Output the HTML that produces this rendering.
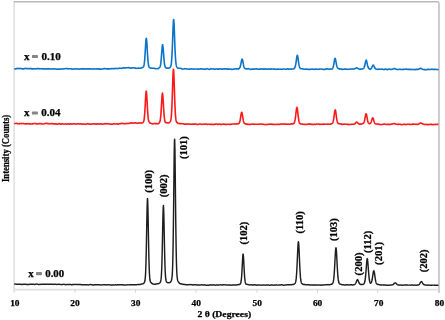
<!DOCTYPE html>
<html><head><meta charset="utf-8"><style>
html,body{margin:0;padding:0;background:#fff;}
body{width:445px;height:320px;overflow:hidden;}
svg{display:block;filter:blur(0.3px);}
text{font-family:"Liberation Serif",serif;font-weight:bold;fill:#000;stroke:#000;stroke-width:0.25px;}
</style></head><body>
<svg width="445" height="320" viewBox="0 0 445 320">
<line x1="14.1" y1="1.7" x2="14.1" y2="292.6" stroke="#e0e0e0" stroke-width="1.6"/>
<line x1="438.95" y1="3.2" x2="438.95" y2="292.8" stroke="#c8c8c8" stroke-width="1.8"/>
<path d="M13.9,1.75 H437.4 A1.55,1.55 0 0 1 438.95,3.3" fill="none" stroke="#bababa" stroke-width="1.4"/>
<line x1="14" y1="289.7" x2="439" y2="289.7" stroke="#e0e0e0" stroke-width="1.8"/>
<g stroke="#d6d6d6" stroke-width="1"><line x1="75.05" y1="289" x2="75.05" y2="292.8"/><line x1="135.60" y1="289" x2="135.60" y2="292.8"/><line x1="196.00" y1="289" x2="196.00" y2="292.8"/><line x1="257.00" y1="289" x2="257.00" y2="292.8"/><line x1="317.50" y1="289" x2="317.50" y2="292.8"/><line x1="377.70" y1="289" x2="377.70" y2="292.8"/></g>
<path d="M14.20,68.96 14.45,68.95 14.70,68.99 14.95,68.84 15.20,68.82 15.45,68.86 15.70,68.83 15.95,68.82 16.20,68.71 16.45,68.62 16.70,68.67 16.95,68.68 17.20,68.61 17.45,68.50 17.70,68.37 17.95,68.40 18.20,68.49 18.45,68.59 18.70,68.52 18.95,68.56 19.20,68.59 19.45,68.66 19.70,68.64 19.95,68.47 20.20,68.49 20.45,68.50 20.70,68.39 20.95,68.55 21.20,68.60 21.45,68.63 21.70,68.82 21.95,68.75 22.20,68.84 22.45,68.84 22.70,68.84 22.95,68.80 23.20,68.93 23.45,68.92 23.70,68.88 23.95,68.82 24.20,68.82 24.45,68.67 24.70,68.55 24.95,68.43 25.20,68.37 25.45,68.32 25.70,68.38 25.95,68.42 26.20,68.45 26.45,68.59 26.70,68.63 26.95,68.57 27.20,68.67 27.45,68.67 27.70,68.62 27.95,68.75 28.20,68.60 28.45,68.65 28.70,68.75 28.95,68.67 29.20,68.69 29.45,68.75 29.70,68.67 29.95,68.67 30.20,68.54 30.45,68.42 30.70,68.60 30.95,68.49 31.20,68.56 31.45,68.63 31.70,68.81 31.95,68.86 32.20,68.90 32.45,68.82 32.70,68.93 32.95,68.81 33.20,68.78 33.45,68.75 33.70,68.85 33.95,68.79 34.20,68.87 34.45,68.74 34.70,68.79 34.95,68.77 35.20,68.79 35.45,68.69 35.70,68.86 35.95,68.79 36.20,68.83 36.45,68.83 36.70,68.75 36.95,68.59 37.20,68.56 37.45,68.52 37.70,68.60 37.95,68.58 38.20,68.53 38.45,68.68 38.70,68.77 38.95,68.82 39.20,68.74 39.45,68.66 39.70,68.79 39.95,68.87 40.20,68.76 40.45,68.67 40.70,68.77 40.95,68.73 41.20,68.72 41.45,68.72 41.70,68.66 41.95,68.72 42.20,68.89 42.45,68.84 42.70,68.98 42.95,68.91 43.20,68.84 43.45,68.84 43.70,68.87 43.95,68.74 44.20,68.71 44.45,68.75 44.70,68.90 44.95,69.00 45.20,69.06 45.45,68.99 45.70,69.08 45.95,69.08 46.20,68.95 46.45,68.87 46.70,68.71 46.95,68.70 47.20,68.80 47.45,68.84 47.70,68.87 47.95,68.91 48.20,68.90 48.45,68.89 48.70,68.87 48.95,68.84 49.20,68.82 49.45,68.77 49.70,68.83 49.95,68.91 50.20,69.03 50.45,69.10 50.70,69.10 50.95,69.01 51.20,69.07 51.45,68.98 51.70,68.93 51.95,68.94 52.20,68.95 52.45,68.86 52.70,68.97 52.95,68.97 53.20,69.02 53.45,68.94 53.70,68.90 53.95,68.81 54.20,68.89 54.45,68.80 54.70,68.83 54.95,68.85 55.20,68.99 55.45,68.96 55.70,69.03 55.95,69.05 56.20,69.12 56.45,69.03 56.70,69.07 56.95,69.09 57.20,69.15 57.45,69.22 57.70,69.26 57.95,69.20 58.20,69.24 58.45,69.11 58.70,69.11 58.95,69.16 59.20,69.06 59.45,69.02 59.70,69.06 59.95,69.09 60.20,69.10 60.45,69.09 60.70,69.02 60.95,69.05 61.20,69.00 61.45,68.99 61.70,68.99 61.95,69.08 62.20,69.07 62.45,68.97 62.70,68.87 62.95,68.88 63.20,68.88 63.45,68.78 63.70,68.79 63.95,68.77 64.20,68.77 64.45,68.83 64.70,68.79 64.95,68.68 65.20,68.66 65.45,68.59 65.70,68.51 65.95,68.54 66.20,68.46 66.45,68.50 66.70,68.56 66.95,68.65 67.20,68.71 67.45,68.72 67.70,68.85 67.95,68.84 68.20,68.83 68.45,68.81 68.70,68.78 68.95,68.69 69.20,68.80 69.45,68.70 69.70,68.71 69.95,68.75 70.20,68.71 70.45,68.74 70.70,68.78 70.95,68.73 71.20,68.84 71.45,68.99 71.70,68.95 71.95,69.09 72.20,69.11 72.45,69.12 72.70,69.03 72.95,68.96 73.20,68.92 73.45,69.02 73.70,69.05 73.95,69.04 74.20,69.04 74.45,69.18 74.70,69.07 74.95,68.98 75.20,68.91 75.45,68.84 75.70,68.75 75.95,68.81 76.20,68.81 76.45,68.88 76.70,68.94 76.95,68.88 77.20,68.81 77.45,68.97 77.70,68.93 77.95,68.94 78.20,69.04 78.45,69.07 78.70,69.08 78.95,69.21 79.20,69.12 79.45,69.13 79.70,69.00 79.95,69.02 80.20,69.00 80.45,69.00 80.70,68.91 80.95,68.84 81.20,68.88 81.45,68.90 81.70,68.77 81.95,68.83 82.20,68.93 82.45,68.84 82.70,68.92 82.95,68.85 83.20,68.95 83.45,69.04 83.70,68.94 83.95,68.83 84.20,68.86 84.45,68.95 84.70,68.95 84.95,68.89 85.20,68.83 85.45,68.91 85.70,68.97 85.95,69.08 86.20,68.92 86.45,69.01 86.70,68.95 86.95,68.96 87.20,68.90 87.45,68.84 87.70,68.80 87.95,68.87 88.20,68.79 88.45,68.88 88.70,68.89 88.95,68.83 89.20,68.82 89.45,68.81 89.70,68.90 89.95,69.00 90.20,68.96 90.45,68.85 90.70,68.99 90.95,69.02 91.20,69.05 91.45,69.01 91.70,68.96 91.95,68.95 92.20,69.12 92.45,69.04 92.70,69.04 92.95,69.09 93.20,68.99 93.45,68.93 93.70,68.99 93.95,68.83 94.20,68.92 94.45,68.98 94.70,68.90 94.95,68.92 95.20,69.01 95.45,69.02 95.70,69.04 95.95,68.97 96.20,68.94 96.45,68.95 96.70,68.96 96.95,68.84 97.20,68.78 97.45,68.91 97.70,68.83 97.95,68.77 98.20,68.83 98.45,68.92 98.70,69.02 98.95,68.91 99.20,68.89 99.45,69.06 99.70,69.21 99.95,69.19 100.20,69.05 100.45,69.08 100.70,69.12 100.95,69.10 101.20,69.10 101.45,69.04 101.70,68.93 101.95,68.98 102.20,68.99 102.45,68.98 102.70,68.97 102.95,68.87 103.20,68.76 103.45,68.85 103.70,68.81 103.95,68.65 104.20,68.69 104.45,68.59 104.70,68.52 104.95,68.60 105.20,68.62 105.45,68.77 105.70,68.78 105.95,68.78 106.20,68.83 106.45,68.93 106.70,68.91 106.95,68.94 107.20,68.84 107.45,68.82 107.70,68.87 107.95,68.84 108.20,68.84 108.45,68.84 108.70,68.83 108.95,68.86 109.20,68.96 109.45,68.87 109.70,68.94 109.95,68.86 110.20,68.90 110.45,68.82 110.70,68.73 110.95,68.65 111.20,68.66 111.45,68.69 111.70,68.67 111.95,68.65 112.20,68.67 112.45,68.65 112.70,68.72 112.95,68.66 113.20,68.53 113.45,68.60 113.70,68.50 113.95,68.53 114.20,68.59 114.45,68.51 114.70,68.63 114.95,68.60 115.20,68.61 115.45,68.56 115.70,68.41 115.95,68.48 116.20,68.53 116.45,68.41 116.70,68.41 116.95,68.44 117.20,68.54 117.45,68.65 117.70,68.48 117.95,68.45 118.20,68.46 118.45,68.46 118.70,68.32 118.95,68.30 119.20,68.19 119.45,68.22 119.70,68.11 119.95,68.18 120.20,68.24 120.45,68.31 120.70,68.26 120.95,68.34 121.20,68.34 121.45,68.41 121.70,68.35 121.95,68.35 122.20,68.25 122.45,68.17 122.70,68.00 122.95,67.93 123.20,67.81 123.45,67.85 123.70,67.79 123.95,67.85 124.20,67.82 124.45,67.89 124.70,68.00 124.95,68.10 125.20,68.01 125.45,67.99 125.70,67.86 125.95,67.88 126.20,67.82 126.45,67.71 126.70,67.66 126.95,67.74 127.20,67.68 127.45,67.71 127.70,67.73 127.95,67.73 128.20,67.71 128.45,67.68 128.70,67.61 128.95,67.58 129.20,67.71 129.45,67.73 129.70,67.88 129.95,67.96 130.20,68.05 130.45,68.06 130.70,68.24 130.95,68.09 131.20,68.16 131.45,68.04 131.70,68.05 131.95,68.07 132.20,68.02 132.45,67.89 132.70,67.89 132.95,67.82 133.20,67.79 133.45,67.75 133.70,67.81 133.95,67.86 134.20,67.89 134.45,67.99 134.70,68.01 134.95,68.15 135.20,68.22 135.45,68.08 135.70,68.07 135.95,68.15 136.20,68.25 136.45,68.33 136.70,68.28 136.95,68.34 137.20,68.32 137.45,68.30 137.70,68.33 137.95,68.23 138.20,68.13 138.45,68.15 138.70,68.16 138.95,68.26 139.20,68.31 139.45,68.18 139.70,68.11 139.95,68.27 140.20,68.25 140.45,68.22 140.70,68.12 140.95,68.08 141.20,68.04 141.45,68.07 141.70,67.87 141.95,67.78 142.20,67.61 142.45,67.58 142.70,67.43 142.95,67.27 143.20,67.15 143.45,66.81 143.70,66.29 143.95,65.40 144.20,64.10 144.45,62.17 144.70,59.57 144.95,56.03 145.20,52.08 145.45,47.81 145.70,43.63 145.95,40.29 146.20,38.47 146.30,38.24 146.45,38.71 146.70,40.92 146.95,44.49 147.20,48.75 147.45,53.03 147.70,57.04 147.95,60.46 148.20,62.92 148.45,64.74 148.70,66.04 148.95,66.83 149.20,67.27 149.45,67.53 149.70,67.60 149.95,67.84 150.20,68.02 150.45,68.02 150.70,68.07 150.95,68.12 151.20,68.16 151.45,68.20 151.70,68.17 151.95,68.16 152.20,68.17 152.45,68.18 152.70,68.32 152.95,68.30 153.20,68.33 153.45,68.32 153.70,68.29 153.95,68.27 154.20,68.34 154.45,68.27 154.70,68.41 154.95,68.47 155.20,68.58 155.45,68.63 155.70,68.75 155.95,68.77 156.20,68.78 156.45,68.78 156.70,68.78 156.95,68.77 157.20,68.76 157.45,68.72 157.70,68.63 157.95,68.66 158.20,68.54 158.45,68.38 158.70,68.14 158.95,67.95 159.20,67.74 159.45,67.64 159.70,67.28 159.95,66.80 160.20,66.27 160.45,65.38 160.70,63.91 160.95,61.90 161.20,59.23 161.45,56.17 161.70,52.91 161.95,49.55 162.20,46.70 162.45,44.99 162.60,44.75 162.70,44.93 162.95,46.37 163.20,48.89 163.45,52.14 163.70,55.61 163.95,58.86 164.20,61.45 164.45,63.56 164.70,65.06 164.95,66.24 165.20,66.91 165.45,67.37 165.70,67.65 165.95,67.83 166.20,67.90 166.45,68.11 166.70,68.11 166.95,68.14 167.20,68.06 167.45,68.06 167.70,68.21 167.95,68.24 168.20,68.22 168.45,68.21 168.70,68.10 168.95,68.11 169.20,67.96 169.45,67.70 169.70,67.66 169.95,67.32 170.20,67.10 170.45,66.84 170.70,66.36 170.95,65.58 171.20,64.40 171.45,62.41 171.70,59.70 171.95,55.88 172.20,50.84 172.45,44.69 172.70,37.75 172.95,30.73 173.20,24.54 173.45,20.55 173.65,19.50 173.70,19.67 173.95,22.01 174.20,27.16 174.45,33.79 174.70,41.00 174.95,47.57 175.20,53.14 175.45,57.55 175.70,60.83 175.95,63.26 176.20,64.98 176.45,65.89 176.70,66.61 176.95,67.09 177.20,67.48 177.45,67.83 177.70,67.97 177.95,68.08 178.20,68.22 178.45,68.17 178.70,68.28 178.95,68.33 179.20,68.26 179.45,68.27 179.70,68.23 179.95,68.21 180.20,68.30 180.45,68.31 180.70,68.32 180.95,68.44 181.20,68.47 181.45,68.62 181.70,68.79 181.95,68.92 182.20,69.00 182.45,69.05 182.70,69.04 182.95,69.12 183.20,69.02 183.45,68.99 183.70,68.96 183.95,68.93 184.20,68.87 184.45,68.79 184.70,68.67 184.95,68.67 185.20,68.68 185.45,68.70 185.70,68.74 185.95,68.76 186.20,68.92 186.45,68.96 186.70,69.04 186.95,68.95 187.20,68.95 187.45,68.95 187.70,69.07 187.95,69.07 188.20,69.15 188.45,69.18 188.70,69.31 188.95,69.29 189.20,69.20 189.45,69.12 189.70,69.12 189.95,69.04 190.20,69.07 190.45,69.04 190.70,69.00 190.95,68.96 191.20,68.94 191.45,68.81 191.70,68.89 191.95,68.88 192.20,68.95 192.45,68.99 192.70,69.07 192.95,69.02 193.20,69.11 193.45,69.10 193.70,69.06 193.95,68.96 194.20,69.02 194.45,68.99 194.70,69.02 194.95,68.95 195.20,68.96 195.45,69.00 195.70,68.96 195.95,68.91 196.20,69.02 196.45,69.00 196.70,68.97 196.95,68.96 197.20,68.95 197.45,69.08 197.70,69.10 197.95,69.04 198.20,69.07 198.45,69.16 198.70,69.23 198.95,69.13 199.20,69.02 199.45,69.00 199.70,69.10 199.95,69.06 200.20,68.96 200.45,68.82 200.70,68.87 200.95,68.93 201.20,68.85 201.45,68.70 201.70,68.78 201.95,68.90 202.20,69.01 202.45,69.04 202.70,68.94 202.95,69.00 203.20,69.12 203.45,69.19 203.70,69.13 203.95,69.16 204.20,69.14 204.45,69.31 204.70,69.26 204.95,69.24 205.20,69.22 205.45,69.25 205.70,69.11 205.95,69.02 206.20,68.88 206.45,68.85 206.70,68.75 206.95,68.71 207.20,68.64 207.45,68.76 207.70,68.87 207.95,68.99 208.20,69.13 208.45,69.23 208.70,69.29 208.95,69.45 209.20,69.43 209.45,69.47 209.70,69.34 209.95,69.21 210.20,69.09 210.45,68.95 210.70,68.84 210.95,68.81 211.20,68.76 211.45,68.88 211.70,68.88 211.95,68.94 212.20,69.01 212.45,69.01 212.70,68.94 212.95,68.93 213.20,68.86 213.45,68.97 213.70,68.99 213.95,69.07 214.20,69.18 214.45,69.17 214.70,69.20 214.95,69.27 215.20,69.19 215.45,69.12 215.70,69.03 215.95,68.92 216.20,69.05 216.45,69.08 216.70,69.01 216.95,69.01 217.20,69.09 217.45,69.13 217.70,69.21 217.95,69.18 218.20,69.06 218.45,69.06 218.70,69.16 218.95,69.17 219.20,69.04 219.45,68.98 219.70,68.91 219.95,68.98 220.20,68.93 220.45,68.82 220.70,68.74 220.95,68.83 221.20,68.93 221.45,68.99 221.70,68.94 221.95,69.10 222.20,69.07 222.45,69.12 222.70,69.18 222.95,68.99 223.20,69.04 223.45,69.03 223.70,68.86 223.95,68.89 224.20,68.91 224.45,68.83 224.70,68.93 224.95,68.79 225.20,68.76 225.45,68.95 225.70,68.98 225.95,68.98 226.20,68.93 226.45,68.88 226.70,69.05 226.95,69.14 227.20,69.05 227.45,68.98 227.70,68.96 227.95,69.10 228.20,69.12 228.45,69.06 228.70,69.10 228.95,69.12 229.20,69.23 229.45,69.16 229.70,69.02 229.95,69.08 230.20,69.05 230.45,69.04 230.70,69.07 230.95,69.13 231.20,69.19 231.45,69.37 231.70,69.37 231.95,69.46 232.20,69.32 232.45,69.31 232.70,69.21 232.95,69.32 233.20,69.32 233.45,69.21 233.70,69.12 233.95,69.14 234.20,69.08 234.45,69.05 234.70,68.99 234.95,68.82 235.20,68.80 235.45,68.80 235.70,68.76 235.95,68.73 236.20,68.84 236.45,68.87 236.70,68.87 236.95,68.83 237.20,68.88 237.45,69.03 237.70,69.05 237.95,68.88 238.20,68.73 238.45,68.82 238.70,68.93 238.95,68.68 239.20,68.39 239.45,68.14 239.70,67.84 239.95,67.46 240.20,66.70 240.45,65.81 240.70,64.75 240.95,63.57 241.20,62.33 241.45,61.11 241.70,59.91 241.95,59.22 242.10,59.08 242.20,59.17 242.45,59.68 242.70,60.59 242.95,61.84 243.20,63.35 243.45,64.66 243.70,65.76 243.95,66.65 244.20,67.38 244.45,67.94 244.70,68.20 244.95,68.35 245.20,68.59 245.45,68.59 245.70,68.76 245.95,68.78 246.20,68.78 246.45,68.90 246.70,68.98 246.95,68.88 247.20,68.99 247.45,68.87 247.70,68.87 247.95,68.85 248.20,68.75 248.45,68.67 248.70,68.75 248.95,68.79 249.20,68.96 249.45,68.97 249.70,69.01 249.95,69.14 250.20,69.27 250.45,69.37 250.70,69.43 250.95,69.32 251.20,69.29 251.45,69.37 251.70,69.25 251.95,69.16 252.20,69.12 252.45,69.04 252.70,69.06 252.95,69.20 253.20,69.08 253.45,69.18 253.70,69.25 253.95,69.14 254.20,69.11 254.45,69.13 254.70,69.06 254.95,69.05 255.20,69.03 255.45,68.89 255.70,68.88 255.95,68.88 256.20,68.81 256.45,68.89 256.70,68.90 256.95,68.87 257.20,69.01 257.45,69.13 257.70,69.12 257.95,69.25 258.20,69.18 258.45,69.21 258.70,69.28 258.95,69.18 259.20,69.09 259.45,69.20 259.70,69.13 259.95,69.18 260.20,69.14 260.45,69.05 260.70,69.02 260.95,69.11 261.20,69.05 261.45,68.97 261.70,68.81 261.95,68.93 262.20,69.00 262.45,69.15 262.70,69.02 262.95,69.03 263.20,69.05 263.45,69.18 263.70,69.14 263.95,69.16 264.20,69.04 264.45,69.21 264.70,69.12 264.95,69.11 265.20,69.11 265.45,69.01 265.70,68.91 265.95,68.95 266.20,68.90 266.45,69.04 266.70,69.17 266.95,69.05 267.20,69.16 267.45,69.30 267.70,69.24 267.95,69.26 268.20,69.14 268.45,69.06 268.70,69.05 268.95,69.07 269.20,69.01 269.45,69.16 269.70,69.10 269.95,69.09 270.20,69.07 270.45,69.12 270.70,69.16 270.95,69.10 271.20,68.94 271.45,68.92 271.70,68.91 271.95,68.95 272.20,69.02 272.45,68.96 272.70,68.96 272.95,68.97 273.20,68.99 273.45,69.11 273.70,69.11 273.95,69.10 274.20,69.15 274.45,69.15 274.70,69.17 274.95,69.17 275.20,69.14 275.45,69.23 275.70,69.23 275.95,69.18 276.20,69.23 276.45,69.33 276.70,69.39 276.95,69.35 277.20,69.20 277.45,69.14 277.70,69.09 277.95,69.18 278.20,69.08 278.45,69.04 278.70,69.10 278.95,69.26 279.20,69.24 279.45,69.31 279.70,69.21 279.95,69.18 280.20,69.18 280.45,69.22 280.70,69.15 280.95,69.14 281.20,69.17 281.45,69.18 281.70,69.28 281.95,69.30 282.20,69.19 282.45,69.16 282.70,69.21 282.95,69.04 283.20,68.98 283.45,69.00 283.70,68.94 283.95,69.05 284.20,68.98 284.45,68.98 284.70,68.99 284.95,69.16 285.20,69.17 285.45,69.26 285.70,69.19 285.95,69.20 286.20,69.22 286.45,69.22 286.70,69.05 286.95,69.00 287.20,68.89 287.45,68.81 287.70,68.88 287.95,68.98 288.20,69.11 288.45,69.19 288.70,69.10 288.95,69.18 289.20,69.18 289.45,69.18 289.70,69.01 289.95,69.01 290.20,69.02 290.45,69.07 290.70,68.97 290.95,69.04 291.20,69.11 291.45,69.16 291.70,69.00 291.95,68.98 292.20,69.05 292.45,69.05 292.70,69.03 292.95,68.99 293.20,68.93 293.45,69.00 293.70,68.93 293.95,68.69 294.20,68.48 294.45,68.32 294.70,67.91 294.95,67.44 295.20,66.75 295.45,65.79 295.70,64.60 295.95,63.09 296.20,61.27 296.45,59.36 296.70,57.60 296.95,56.17 297.20,55.43 297.30,55.29 297.45,55.43 297.70,56.32 297.95,57.91 298.20,59.65 298.45,61.56 298.70,63.21 298.95,64.71 299.20,65.90 299.45,66.77 299.70,67.41 299.95,68.00 300.20,68.15 300.45,68.46 300.70,68.58 300.95,68.76 301.20,68.79 301.45,68.79 301.70,68.68 301.95,68.81 302.20,68.73 302.45,68.88 302.70,68.85 302.95,68.93 303.20,69.00 303.45,69.10 303.70,69.14 303.95,69.30 304.20,69.22 304.45,69.23 304.70,69.29 304.95,69.21 305.20,69.20 305.45,69.12 305.70,69.14 305.95,69.11 306.20,69.18 306.45,69.16 306.70,69.28 306.95,69.20 307.20,69.31 307.45,69.18 307.70,69.32 307.95,69.33 308.20,69.27 308.45,69.29 308.70,69.42 308.95,69.31 309.20,69.39 309.45,69.33 309.70,69.34 309.95,69.38 310.20,69.37 310.45,69.27 310.70,69.31 310.95,69.17 311.20,69.22 311.45,69.24 311.70,69.28 311.95,69.14 312.20,69.21 312.45,69.21 312.70,69.23 312.95,69.12 313.20,69.16 313.45,69.17 313.70,69.21 313.95,69.26 314.20,69.29 314.45,69.35 314.70,69.43 314.95,69.29 315.20,69.18 315.45,69.14 315.70,69.11 315.95,69.10 316.20,69.16 316.45,69.14 316.70,69.18 316.95,69.18 317.20,69.32 317.45,69.27 317.70,69.27 317.95,69.27 318.20,69.26 318.45,69.31 318.70,69.26 318.95,69.17 319.20,69.26 319.45,69.18 319.70,69.05 319.95,68.97 320.20,68.98 320.45,68.99 320.70,69.03 320.95,68.95 321.20,69.07 321.45,69.15 321.70,69.25 321.95,69.11 322.20,69.24 322.45,69.29 322.70,69.33 322.95,69.33 323.20,69.36 323.45,69.40 323.70,69.55 323.95,69.52 324.20,69.37 324.45,69.42 324.70,69.45 324.95,69.37 325.20,69.24 325.45,69.15 325.70,69.05 325.95,69.11 326.20,68.96 326.45,68.81 326.70,68.77 326.95,68.83 327.20,68.82 327.45,68.93 327.70,68.93 327.95,68.94 328.20,69.07 328.45,69.24 328.70,69.28 328.95,69.25 329.20,69.18 329.45,69.18 329.70,69.21 329.95,69.02 330.20,68.92 330.45,68.92 330.70,68.98 330.95,69.04 331.20,69.05 331.45,69.06 331.70,69.15 331.95,69.14 332.20,68.99 332.45,68.70 332.70,68.30 332.95,67.78 333.20,67.09 333.45,66.12 333.70,64.86 333.95,63.39 334.20,61.91 334.45,60.42 334.70,59.26 334.95,58.53 335.10,58.31 335.20,58.39 335.45,59.09 335.70,60.19 335.95,61.55 336.20,63.00 336.45,64.31 336.70,65.51 336.95,66.46 337.20,67.06 337.45,67.57 337.70,68.02 337.95,68.18 338.20,68.28 338.45,68.47 338.70,68.68 338.95,68.89 339.20,68.96 339.45,69.09 339.70,69.11 339.95,69.16 340.20,69.07 340.45,68.92 340.70,68.89 340.95,68.98 341.20,68.91 341.45,69.06 341.70,69.12 341.95,69.30 342.20,69.41 342.45,69.41 342.70,69.30 342.95,69.30 343.20,69.23 343.45,69.31 343.70,69.18 343.95,69.13 344.20,69.18 344.45,69.17 344.70,69.19 344.95,69.15 345.20,69.13 345.45,69.20 345.70,69.16 345.95,69.15 346.20,69.21 346.45,69.17 346.70,69.29 346.95,69.32 347.20,69.26 347.45,69.38 347.70,69.26 347.95,69.28 348.20,69.24 348.45,69.20 348.70,69.23 348.95,69.29 349.20,69.17 349.45,69.24 349.70,69.23 349.95,69.30 350.20,69.21 350.45,69.08 350.70,69.05 350.95,69.05 351.20,69.08 351.45,69.04 351.70,69.01 351.95,68.99 352.20,68.99 352.45,69.08 352.70,69.11 352.95,69.00 353.20,69.00 353.45,69.11 353.70,69.08 353.95,69.05 354.20,68.86 354.45,68.86 354.70,68.83 354.95,68.67 355.20,68.51 355.45,68.39 355.70,68.29 355.95,68.17 356.20,68.06 356.45,67.89 356.70,67.88 356.95,67.80 357.20,67.89 357.45,68.05 357.70,68.22 357.95,68.28 358.20,68.52 358.45,68.78 358.70,68.95 358.95,69.07 359.20,69.11 359.45,69.18 359.70,69.22 359.95,69.22 360.20,69.10 360.45,69.08 360.70,69.16 360.95,69.09 361.20,69.03 361.45,69.05 361.70,69.07 361.95,69.06 362.20,69.03 362.45,68.97 362.70,68.87 362.95,68.75 363.20,68.67 363.45,68.57 363.70,68.29 363.95,67.85 364.20,67.31 364.45,66.65 364.70,65.86 364.95,64.65 365.20,63.37 365.45,62.18 365.70,61.15 365.95,60.41 366.20,60.17 366.45,60.48 366.70,61.39 366.95,62.49 367.20,63.83 367.45,64.98 367.70,66.01 367.95,66.87 368.20,67.53 368.45,67.91 368.70,68.32 368.95,68.47 369.20,68.74 369.45,68.92 369.70,69.09 369.95,69.06 370.20,69.19 370.45,69.17 370.70,69.03 370.95,68.87 371.20,68.61 371.45,68.21 371.70,67.79 371.95,67.18 372.20,66.54 372.45,66.14 372.70,65.59 372.95,65.17 373.20,65.08 373.45,65.24 373.70,65.67 373.95,66.18 374.20,66.61 374.45,67.10 374.70,67.70 374.95,68.12 375.20,68.41 375.45,68.63 375.70,68.83 375.95,68.99 376.20,69.23 376.45,69.27 376.70,69.24 376.95,69.29 377.20,69.33 377.45,69.26 377.70,69.36 377.95,69.21 378.20,69.16 378.45,69.16 378.70,69.21 378.95,69.11 379.20,69.12 379.45,69.14 379.70,69.28 379.95,69.24 380.20,69.28 380.45,69.19 380.70,69.20 380.95,69.20 381.20,69.20 381.45,69.12 381.70,69.12 381.95,69.05 382.20,69.07 382.45,69.24 382.70,69.34 382.95,69.33 383.20,69.43 383.45,69.53 383.70,69.57 383.95,69.58 384.20,69.45 384.45,69.32 384.70,69.18 384.95,69.16 385.20,69.11 385.45,69.07 385.70,69.09 385.95,69.20 386.20,69.35 386.45,69.46 386.70,69.46 386.95,69.54 387.20,69.64 387.45,69.66 387.70,69.61 387.95,69.50 388.20,69.37 388.45,69.28 388.70,69.20 388.95,69.11 389.20,69.06 389.45,69.00 389.70,69.01 389.95,69.18 390.20,69.23 390.45,69.30 390.70,69.41 390.95,69.50 391.20,69.51 391.45,69.50 391.70,69.36 391.95,69.37 392.20,69.34 392.45,69.31 392.70,69.21 392.95,69.12 393.20,68.99 393.45,68.99 393.70,68.87 393.95,68.68 394.20,68.57 394.45,68.57 394.70,68.61 394.95,68.79 395.20,68.84 395.45,68.91 395.70,69.10 395.95,69.13 396.20,69.30 396.45,69.32 396.70,69.33 396.95,69.37 397.20,69.47 397.45,69.43 397.70,69.56 397.95,69.51 398.20,69.62 398.45,69.53 398.70,69.43 398.95,69.39 399.20,69.40 399.45,69.25 399.70,69.28 399.95,69.21 400.20,69.29 400.45,69.35 400.70,69.42 400.95,69.38 401.20,69.47 401.45,69.44 401.70,69.50 401.95,69.47 402.20,69.43 402.45,69.36 402.70,69.41 402.95,69.43 403.20,69.34 403.45,69.30 403.70,69.35 403.95,69.34 404.20,69.27 404.45,69.33 404.70,69.21 404.95,69.28 405.20,69.25 405.45,69.16 405.70,69.17 405.95,69.18 406.20,69.08 406.45,69.25 406.70,69.17 406.95,69.18 407.20,69.31 407.45,69.38 407.70,69.35 407.95,69.32 408.20,69.20 408.45,69.35 408.70,69.37 408.95,69.29 409.20,69.26 409.45,69.35 409.70,69.34 409.95,69.41 410.20,69.38 410.45,69.38 410.70,69.44 410.95,69.49 411.20,69.58 411.45,69.67 411.70,69.55 411.95,69.51 412.20,69.54 412.45,69.50 412.70,69.49 412.95,69.38 413.20,69.38 413.45,69.48 413.70,69.51 413.95,69.56 414.20,69.63 414.45,69.64 414.70,69.70 414.95,69.62 415.20,69.62 415.45,69.61 415.70,69.45 415.95,69.45 416.20,69.36 416.45,69.31 416.70,69.36 416.95,69.36 417.20,69.37 417.45,69.42 417.70,69.42 417.95,69.41 418.20,69.36 418.45,69.36 418.70,69.18 418.95,69.05 419.20,69.02 419.45,68.72 419.70,68.65 419.95,68.55 420.20,68.39 420.45,68.44 420.50,68.46 420.70,68.33 420.95,68.47 421.20,68.54 421.45,68.68 421.70,68.89 421.95,69.03 422.20,69.15 422.45,69.25 422.70,69.33 422.95,69.46 423.20,69.56 423.45,69.57 423.70,69.51 423.95,69.52 424.20,69.63 424.45,69.68 424.70,69.64 424.95,69.63 425.20,69.63 425.45,69.75 425.70,69.70 425.95,69.70 426.20,69.70 426.45,69.69 426.70,69.54 426.95,69.58 427.20,69.46 427.45,69.47 427.70,69.38 427.95,69.30 428.20,69.37 428.45,69.41 428.70,69.29 428.95,69.38 429.20,69.33 429.45,69.45 429.70,69.53 429.95,69.52 430.20,69.56 430.45,69.57 430.70,69.46 430.95,69.49 431.20,69.36 431.45,69.28 431.70,69.14 431.95,69.11 432.20,69.19 432.45,69.32 432.70,69.32 432.95,69.37 433.20,69.40 433.45,69.49 433.70,69.52 433.95,69.40 434.20,69.32 434.45,69.31 434.70,69.29 434.95,69.38 435.20,69.28 435.45,69.28 435.70,69.40 435.95,69.40 436.20,69.52 436.45,69.55 436.70,69.58 436.95,69.57 437.20,69.66 437.45,69.59 437.70,69.49 437.95,69.41 438.20,69.44 438.45,69.29" fill="none" stroke="#0a74c8" stroke-width="1.6" stroke-linejoin="round"/>
<path d="M14.20,123.43 14.45,123.50 14.70,123.50 14.95,123.45 15.20,123.48 15.45,123.46 15.70,123.42 15.95,123.42 16.20,123.34 16.45,123.35 16.70,123.50 16.95,123.43 17.20,123.46 17.45,123.50 17.70,123.67 17.95,123.76 18.20,123.75 18.45,123.78 18.70,123.77 18.95,123.89 19.20,123.83 19.45,123.68 19.70,123.59 19.95,123.58 20.20,123.55 20.45,123.57 20.70,123.52 20.95,123.59 21.20,123.63 21.45,123.71 21.70,123.67 21.95,123.53 22.20,123.53 22.45,123.55 22.70,123.51 22.95,123.50 23.20,123.51 23.45,123.59 23.70,123.63 23.95,123.74 24.20,123.75 24.45,123.72 24.70,123.77 24.95,123.76 25.20,123.84 25.45,123.92 25.70,123.82 25.95,123.88 26.20,123.85 26.45,123.83 26.70,123.87 26.95,123.74 27.20,123.69 27.45,123.65 27.70,123.59 27.95,123.71 28.20,123.74 28.45,123.76 28.70,123.80 28.95,123.84 29.20,123.94 29.45,123.93 29.70,123.87 29.95,123.92 30.20,123.93 30.45,123.96 30.70,123.96 30.95,123.86 31.20,123.88 31.45,123.92 31.70,123.95 31.95,123.93 32.20,123.89 32.45,123.84 32.70,123.96 32.95,123.83 33.20,123.80 33.45,123.64 33.70,123.51 33.95,123.47 34.20,123.54 34.45,123.44 34.70,123.48 34.95,123.47 35.20,123.61 35.45,123.60 35.70,123.67 35.95,123.63 36.20,123.78 36.45,123.89 36.70,123.98 36.95,123.87 37.20,123.93 37.45,123.91 37.70,123.98 37.95,123.99 38.20,123.87 38.45,123.74 38.70,123.73 38.95,123.70 39.20,123.72 39.45,123.67 39.70,123.54 39.95,123.51 40.20,123.56 40.45,123.58 40.70,123.65 40.95,123.74 41.20,123.76 41.45,123.81 41.70,123.92 41.95,123.97 42.20,123.91 42.45,123.98 42.70,123.95 42.95,123.98 43.20,124.04 43.45,123.99 43.70,123.94 43.95,123.95 44.20,123.90 44.45,123.77 44.70,123.62 44.95,123.51 45.20,123.47 45.45,123.46 45.70,123.45 45.95,123.33 46.20,123.35 46.45,123.35 46.70,123.38 46.95,123.36 47.20,123.46 47.45,123.57 47.70,123.60 47.95,123.62 48.20,123.66 48.45,123.67 48.70,123.69 48.95,123.68 49.20,123.75 49.45,123.81 49.70,123.86 49.95,123.81 50.20,123.76 50.45,123.80 50.70,123.70 50.95,123.67 51.20,123.61 51.45,123.52 51.70,123.69 51.95,123.77 52.20,123.73 52.45,123.79 52.70,123.64 52.95,123.71 53.20,123.89 53.45,123.87 53.70,123.90 53.95,123.93 54.20,123.89 54.45,123.92 54.70,123.97 54.95,123.89 55.20,123.87 55.45,123.80 55.70,123.80 55.95,123.88 56.20,124.04 56.45,124.05 56.70,124.11 56.95,124.11 57.20,124.19 57.45,124.19 57.70,124.14 57.95,124.02 58.20,123.87 58.45,123.72 58.70,123.62 58.95,123.53 59.20,123.62 59.45,123.70 59.70,123.72 59.95,123.89 60.20,124.08 60.45,124.20 60.70,124.23 60.95,124.14 61.20,124.00 61.45,123.95 61.70,123.82 61.95,123.75 62.20,123.74 62.45,123.83 62.70,123.88 62.95,123.96 63.20,124.08 63.45,124.06 63.70,124.06 63.95,124.07 64.20,124.06 64.45,124.11 64.70,124.08 64.95,123.96 65.20,124.09 65.45,124.03 65.70,124.01 65.95,124.05 66.20,123.98 66.45,123.97 66.70,124.12 66.95,124.10 67.20,124.08 67.45,123.95 67.70,123.80 67.95,123.89 68.20,123.97 68.45,123.82 68.70,123.84 68.95,123.99 69.20,124.09 69.45,124.13 69.70,124.07 69.95,123.94 70.20,123.92 70.45,123.94 70.70,123.88 70.95,123.86 71.20,123.97 71.45,123.95 71.70,124.09 71.95,124.24 72.20,124.10 72.45,124.03 72.70,123.98 72.95,123.86 73.20,123.88 73.45,123.77 73.70,123.69 73.95,123.68 74.20,123.81 74.45,123.82 74.70,123.86 74.95,123.86 75.20,123.98 75.45,123.98 75.70,124.13 75.95,124.06 76.20,124.09 76.45,124.11 76.70,124.00 76.95,123.91 77.20,123.87 77.45,123.70 77.70,123.75 77.95,123.69 78.20,123.68 78.45,123.81 78.70,123.84 78.95,123.86 79.20,123.96 79.45,123.92 79.70,124.03 79.95,123.97 80.20,123.94 80.45,123.88 80.70,123.87 80.95,123.92 81.20,123.91 81.45,123.87 81.70,123.99 81.95,124.06 82.20,124.10 82.45,124.16 82.70,124.11 82.95,124.12 83.20,124.14 83.45,124.08 83.70,124.01 83.95,124.02 84.20,124.08 84.45,124.12 84.70,124.19 84.95,124.24 85.20,124.20 85.45,124.21 85.70,124.30 85.95,124.28 86.20,124.17 86.45,124.03 86.70,123.94 86.95,123.91 87.20,123.85 87.45,123.68 87.70,123.65 87.95,123.78 88.20,123.92 88.45,123.87 88.70,123.99 88.95,124.07 89.20,124.09 89.45,124.13 89.70,124.16 89.95,124.04 90.20,124.19 90.45,124.13 90.70,124.09 90.95,124.26 91.20,124.25 91.45,124.09 91.70,124.14 91.95,124.05 92.20,124.04 92.45,123.99 92.70,123.86 92.95,123.84 93.20,123.82 93.45,123.84 93.70,123.83 93.95,123.77 94.20,123.79 94.45,123.85 94.70,123.81 94.95,123.82 95.20,123.90 95.45,123.97 95.70,124.15 95.95,124.11 96.20,124.04 96.45,123.95 96.70,124.09 96.95,123.95 97.20,123.83 97.45,123.73 97.70,123.88 97.95,123.98 98.20,124.03 98.45,123.91 98.70,124.03 98.95,124.11 99.20,124.17 99.45,124.01 99.70,123.87 99.95,123.95 100.20,124.00 100.45,123.84 100.70,123.91 100.95,123.90 101.20,124.04 101.45,124.04 101.70,124.08 101.95,124.01 102.20,124.16 102.45,124.07 102.70,124.01 102.95,123.97 103.20,124.12 103.45,124.01 103.70,124.03 103.95,123.96 104.20,123.92 104.45,123.88 104.70,123.81 104.95,123.64 105.20,123.63 105.45,123.67 105.70,123.62 105.95,123.72 106.20,123.76 106.45,123.82 106.70,123.85 106.95,123.87 107.20,123.82 107.45,123.81 107.70,123.67 107.95,123.75 108.20,123.76 108.45,123.76 108.70,123.79 108.95,123.96 109.20,123.93 109.45,124.09 109.70,124.03 109.95,124.02 110.20,124.14 110.45,124.12 110.70,124.04 110.95,124.15 111.20,124.18 111.45,124.17 111.70,124.23 111.95,124.20 112.20,124.25 112.45,124.23 112.70,124.16 112.95,123.99 113.20,123.95 113.45,123.80 113.70,123.80 113.95,123.73 114.20,123.68 114.45,123.63 114.70,123.78 114.95,123.91 115.20,124.02 115.45,123.93 115.70,123.93 115.95,123.95 116.20,124.01 116.45,123.88 116.70,123.79 116.95,123.71 117.20,123.83 117.45,123.97 117.70,124.01 117.95,123.96 118.20,124.10 118.45,124.07 118.70,124.08 118.95,123.89 119.20,123.77 119.45,123.74 119.70,123.78 119.95,123.62 120.20,123.65 120.45,123.57 120.70,123.61 120.95,123.54 121.20,123.51 121.45,123.41 121.70,123.36 121.95,123.30 122.20,123.33 122.45,123.37 122.70,123.44 122.95,123.49 123.20,123.59 123.45,123.70 123.70,123.79 123.95,123.80 124.20,123.73 124.45,123.79 124.70,123.66 124.95,123.65 125.20,123.61 125.45,123.43 125.70,123.50 125.95,123.58 126.20,123.49 126.45,123.58 126.70,123.58 126.95,123.46 127.20,123.53 127.45,123.44 127.70,123.41 127.95,123.43 128.20,123.42 128.45,123.36 128.70,123.48 128.95,123.50 129.20,123.51 129.45,123.38 129.70,123.22 129.95,123.07 130.20,123.02 130.45,122.86 130.70,122.87 130.95,122.83 131.20,122.90 131.45,123.00 131.70,123.09 131.95,123.11 132.20,123.09 132.45,123.07 132.70,123.10 132.95,123.08 133.20,123.06 133.45,123.05 133.70,122.97 133.95,123.11 134.20,123.01 134.45,122.89 134.70,122.85 134.95,122.89 135.20,122.81 135.45,122.94 135.70,122.99 135.95,123.04 136.20,123.11 136.45,123.16 136.70,123.16 136.95,123.27 137.20,123.26 137.45,123.20 137.70,123.13 137.95,123.10 138.20,123.06 138.45,123.08 138.70,123.00 138.95,123.00 139.20,122.88 139.45,122.88 139.70,122.90 139.95,122.98 140.20,122.96 140.45,123.02 140.70,122.96 140.95,123.04 141.20,123.09 141.45,123.10 141.70,122.95 141.95,122.94 142.20,122.79 142.45,122.83 142.70,122.79 142.95,122.53 143.20,122.27 143.45,121.98 143.70,121.34 143.95,120.35 144.20,118.67 144.45,116.32 144.70,113.50 144.95,109.69 145.20,105.25 145.45,100.41 145.70,96.02 145.95,92.78 146.20,91.21 146.25,91.14 146.45,91.94 146.70,94.75 146.95,98.96 147.20,103.57 147.45,108.14 147.70,112.28 147.95,115.46 148.20,117.90 148.45,119.64 148.70,120.84 148.95,121.66 149.20,122.04 149.45,122.35 149.70,122.63 149.95,122.94 150.20,122.97 150.45,123.12 150.70,123.29 150.95,123.35 151.20,123.51 151.45,123.63 151.70,123.69 151.95,123.77 152.20,123.73 152.45,123.67 152.70,123.85 152.95,123.81 153.20,123.76 153.45,123.68 153.70,123.68 153.95,123.63 154.20,123.58 154.45,123.55 154.70,123.49 154.95,123.59 155.20,123.55 155.45,123.54 155.70,123.62 155.95,123.62 156.20,123.52 156.45,123.62 156.70,123.59 156.95,123.67 157.20,123.70 157.45,123.74 157.70,123.83 157.95,123.81 158.20,123.70 158.45,123.46 158.70,123.34 158.95,123.17 159.20,122.95 159.45,122.60 159.70,122.11 159.95,121.28 160.20,120.37 160.45,118.67 160.70,116.43 160.95,113.36 161.20,109.60 161.45,105.44 161.70,101.19 161.95,97.03 162.20,94.23 162.45,93.12 162.70,94.23 162.95,97.14 163.20,101.05 163.45,105.30 163.70,109.52 163.95,113.26 164.20,116.27 164.45,118.43 164.70,120.11 164.95,121.32 165.20,122.05 165.45,122.47 165.70,122.60 165.95,122.70 166.20,122.83 166.45,122.75 166.70,122.66 166.95,122.66 167.20,122.76 167.45,122.89 167.70,123.01 167.95,123.00 168.20,123.03 168.45,123.04 168.70,123.00 168.95,122.88 169.20,122.62 169.45,122.41 169.70,122.34 169.95,122.06 170.20,121.73 170.45,121.27 170.70,120.59 170.95,119.39 171.20,117.48 171.45,114.52 171.70,110.59 171.95,105.27 172.20,98.75 172.45,91.20 172.70,83.45 172.95,76.24 173.20,71.04 173.45,69.20 173.70,71.19 173.95,76.27 174.20,83.40 174.45,91.12 174.70,98.75 174.95,105.51 175.20,110.85 175.45,114.85 175.70,117.78 175.95,119.63 176.20,120.90 176.45,121.65 176.70,122.09 176.95,122.42 177.20,122.68 177.45,122.82 177.70,123.05 177.95,123.29 178.20,123.46 178.45,123.55 178.70,123.51 178.95,123.55 179.20,123.52 179.45,123.62 179.70,123.65 179.95,123.66 180.20,123.62 180.45,123.70 180.70,123.70 180.95,123.82 181.20,123.69 181.45,123.61 181.70,123.67 181.95,123.78 182.20,123.82 182.45,123.76 182.70,123.76 182.95,123.75 183.20,123.81 183.45,123.81 183.70,123.90 183.95,123.96 184.20,124.09 184.45,124.08 184.70,124.13 184.95,124.13 185.20,124.23 185.45,124.19 185.70,124.13 185.95,123.98 186.20,123.99 186.45,124.08 186.70,124.12 186.95,123.99 187.20,123.99 187.45,124.11 187.70,124.16 187.95,124.07 188.20,124.01 188.45,124.02 188.70,124.10 188.95,124.02 189.20,124.00 189.45,124.10 189.70,124.19 189.95,124.17 190.20,124.28 190.45,124.21 190.70,124.33 190.95,124.23 191.20,124.13 191.45,124.18 191.70,124.20 191.95,124.20 192.20,124.24 192.45,124.12 192.70,124.13 192.95,124.17 193.20,124.15 193.45,124.28 193.70,124.13 193.95,124.11 194.20,124.12 194.45,124.26 194.70,124.21 194.95,124.10 195.20,123.93 195.45,123.98 195.70,124.08 195.95,124.20 196.20,124.16 196.45,124.32 196.70,124.49 196.95,124.54 197.20,124.51 197.45,124.52 197.70,124.49 197.95,124.36 198.20,124.30 198.45,124.20 198.70,124.21 198.95,124.24 199.20,124.09 199.45,123.95 199.70,124.00 199.95,123.94 200.20,124.05 200.45,124.01 200.70,124.13 200.95,124.14 201.20,124.20 201.45,124.31 201.70,124.40 201.95,124.30 202.20,124.28 202.45,124.19 202.70,124.22 202.95,124.33 203.20,124.21 203.45,124.13 203.70,124.22 203.95,124.21 204.20,124.20 204.45,124.29 204.70,124.26 204.95,124.23 205.20,124.17 205.45,124.01 205.70,124.18 205.95,124.15 206.20,124.14 206.45,124.16 206.70,124.22 206.95,124.27 207.20,124.43 207.45,124.38 207.70,124.38 207.95,124.37 208.20,124.26 208.45,124.25 208.70,124.20 208.95,124.17 209.20,124.22 209.45,124.29 209.70,124.34 209.95,124.28 210.20,124.27 210.45,124.36 210.70,124.40 210.95,124.41 211.20,124.36 211.45,124.23 211.70,124.31 211.95,124.36 212.20,124.44 212.45,124.30 212.70,124.27 212.95,124.34 213.20,124.44 213.45,124.51 213.70,124.53 213.95,124.42 214.20,124.44 214.45,124.36 214.70,124.37 214.95,124.23 215.20,124.12 215.45,124.15 215.70,124.13 215.95,124.08 216.20,124.02 216.45,123.98 216.70,124.03 216.95,124.17 217.20,124.20 217.45,124.34 217.70,124.38 217.95,124.39 218.20,124.30 218.45,124.33 218.70,124.28 218.95,124.20 219.20,124.06 219.45,124.09 219.70,124.19 219.95,124.30 220.20,124.34 220.45,124.37 220.70,124.41 220.95,124.39 221.20,124.47 221.45,124.41 221.70,124.39 221.95,124.32 222.20,124.30 222.45,124.21 222.70,124.23 222.95,124.12 223.20,124.09 223.45,124.15 223.70,124.19 223.95,124.11 224.20,124.15 224.45,124.29 224.70,124.34 224.95,124.35 225.20,124.34 225.45,124.35 225.70,124.48 225.95,124.42 226.20,124.32 226.45,124.38 226.70,124.49 226.95,124.51 227.20,124.40 227.45,124.27 227.70,124.27 227.95,124.21 228.20,124.24 228.45,124.19 228.70,124.19 228.95,124.26 229.20,124.36 229.45,124.42 229.70,124.44 229.95,124.40 230.20,124.46 230.45,124.31 230.70,124.35 230.95,124.30 231.20,124.25 231.45,124.27 231.70,124.15 231.95,124.01 232.20,124.03 232.45,124.03 232.70,124.03 232.95,124.03 233.20,123.95 233.45,123.98 233.70,124.07 233.95,124.05 234.20,123.99 234.45,123.90 234.70,124.00 234.95,124.10 235.20,124.04 235.45,123.92 235.70,123.95 235.95,123.98 236.20,124.05 236.45,123.90 236.70,123.81 236.95,123.91 237.20,123.94 237.45,123.89 237.70,123.80 237.95,123.82 238.20,123.79 238.45,123.77 238.70,123.56 238.95,123.34 239.20,123.11 239.45,122.75 239.70,121.95 239.95,120.99 240.20,119.83 240.45,118.37 240.70,116.71 240.95,115.12 241.20,113.58 241.45,112.66 241.70,112.34 241.95,112.73 242.20,113.79 242.45,115.24 242.70,116.68 242.95,118.28 243.20,119.68 243.45,120.96 243.70,121.75 243.95,122.48 244.20,123.01 244.45,123.43 244.70,123.58 244.95,123.66 245.20,123.68 245.45,123.91 245.70,123.86 245.95,123.92 246.20,124.01 246.45,124.19 246.70,124.19 246.95,124.14 247.20,124.16 247.45,124.34 247.70,124.35 247.95,124.22 248.20,124.22 248.45,124.26 248.70,124.42 248.95,124.37 249.20,124.34 249.45,124.29 249.70,124.43 249.95,124.30 250.20,124.31 250.45,124.31 250.70,124.35 250.95,124.23 251.20,124.25 251.45,124.18 251.70,124.24 251.95,124.23 252.20,124.10 252.45,123.99 252.70,124.10 252.95,124.23 253.20,124.16 253.45,124.17 253.70,124.24 253.95,124.23 254.20,124.34 254.45,124.23 254.70,124.17 254.95,124.27 255.20,124.29 255.45,124.20 255.70,124.27 255.95,124.23 256.20,124.29 256.45,124.30 256.70,124.28 256.95,124.25 257.20,124.19 257.45,124.23 257.70,124.21 257.95,124.18 258.20,124.20 258.45,124.26 258.70,124.27 258.95,124.30 259.20,124.27 259.45,124.20 259.70,124.18 259.95,124.12 260.20,123.99 260.45,123.99 260.70,124.05 260.95,123.97 261.20,124.07 261.45,124.06 261.70,124.12 261.95,124.25 262.20,124.26 262.45,124.17 262.70,124.26 262.95,124.21 263.20,124.38 263.45,124.26 263.70,124.28 263.95,124.37 264.20,124.50 264.45,124.56 264.70,124.52 264.95,124.53 265.20,124.60 265.45,124.62 265.70,124.60 265.95,124.49 266.20,124.49 266.45,124.63 266.70,124.46 266.95,124.43 267.20,124.39 267.45,124.25 267.70,124.39 267.95,124.29 268.20,124.27 268.45,124.28 268.70,124.31 268.95,124.34 269.20,124.35 269.45,124.23 269.70,124.28 269.95,124.18 270.20,124.16 270.45,124.10 270.70,123.96 270.95,124.10 271.20,124.18 271.45,124.25 271.70,124.22 271.95,124.36 272.20,124.35 272.45,124.42 272.70,124.36 272.95,124.30 273.20,124.30 273.45,124.37 273.70,124.33 273.95,124.48 274.20,124.40 274.45,124.46 274.70,124.51 274.95,124.42 275.20,124.47 275.45,124.41 275.70,124.43 275.95,124.52 276.20,124.40 276.45,124.42 276.70,124.43 276.95,124.32 277.20,124.41 277.45,124.23 277.70,124.27 277.95,124.25 278.20,124.23 278.45,124.33 278.70,124.41 278.95,124.39 279.20,124.44 279.45,124.29 279.70,124.24 279.95,124.15 280.20,124.08 280.45,124.05 280.70,124.02 280.95,124.13 281.20,124.15 281.45,124.19 281.70,124.28 281.95,124.17 282.20,124.09 282.45,124.06 282.70,123.91 282.95,123.95 283.20,123.95 283.45,123.93 283.70,124.04 283.95,124.07 284.20,124.12 284.45,124.19 284.70,124.15 284.95,124.28 285.20,124.21 285.45,124.13 285.70,124.10 285.95,124.10 286.20,124.18 286.45,124.29 286.70,124.19 286.95,124.19 287.20,124.16 287.45,124.26 287.70,124.24 287.95,124.14 288.20,124.11 288.45,124.11 288.70,124.23 288.95,124.36 289.20,124.28 289.45,124.33 289.70,124.26 289.95,124.23 290.20,124.21 290.45,124.07 290.70,123.93 290.95,124.01 291.20,123.82 291.45,123.90 291.70,123.95 291.95,123.88 292.20,123.84 292.45,123.90 292.70,123.81 292.95,123.87 293.20,123.85 293.45,123.60 293.70,123.48 293.95,123.27 294.20,122.83 294.45,122.39 294.70,121.66 294.95,120.59 295.20,119.16 295.45,117.49 295.70,115.50 295.95,113.31 296.20,111.03 296.45,109.03 296.70,107.67 296.90,107.35 296.95,107.26 297.20,107.85 297.45,109.40 297.70,111.50 297.95,113.84 298.20,116.17 298.45,118.24 298.70,119.87 298.95,121.23 299.20,122.17 299.45,122.83 299.70,123.23 299.95,123.41 300.20,123.59 300.45,123.85 300.70,123.88 300.95,124.03 301.20,123.93 301.45,123.92 301.70,123.95 301.95,124.00 302.20,124.02 302.45,124.15 302.70,124.06 302.95,124.24 303.20,124.27 303.45,124.28 303.70,124.33 303.95,124.28 304.20,124.28 304.45,124.35 304.70,124.38 304.95,124.41 305.20,124.53 305.45,124.50 305.70,124.55 305.95,124.51 306.20,124.52 306.45,124.45 306.70,124.42 306.95,124.31 307.20,124.30 307.45,124.16 307.70,124.25 307.95,124.14 308.20,124.04 308.45,124.01 308.70,124.14 308.95,124.09 309.20,124.11 309.45,123.94 309.70,123.93 309.95,124.05 310.20,124.15 310.45,124.11 310.70,124.19 310.95,124.17 311.20,124.28 311.45,124.34 311.70,124.37 311.95,124.40 312.20,124.44 312.45,124.32 312.70,124.47 312.95,124.53 313.20,124.64 313.45,124.51 313.70,124.39 313.95,124.25 314.20,124.24 314.45,124.24 314.70,124.22 314.95,124.16 315.20,124.30 315.45,124.38 315.70,124.41 315.95,124.42 316.20,124.28 316.45,124.27 316.70,124.19 316.95,124.09 317.20,124.05 317.45,124.00 317.70,124.03 317.95,124.07 318.20,124.06 318.45,124.09 318.70,124.09 318.95,124.19 319.20,124.28 319.45,124.40 319.70,124.46 319.95,124.33 320.20,124.34 320.45,124.36 320.70,124.32 320.95,124.29 321.20,124.26 321.45,124.25 321.70,124.28 321.95,124.36 322.20,124.30 322.45,124.30 322.70,124.27 322.95,124.14 323.20,124.07 323.45,124.17 323.70,124.19 323.95,124.17 324.20,124.11 324.45,124.17 324.70,124.32 324.95,124.31 325.20,124.26 325.45,124.13 325.70,124.29 325.95,124.24 326.20,124.32 326.45,124.22 326.70,124.22 326.95,124.25 327.20,124.28 327.45,124.13 327.70,124.20 327.95,124.03 328.20,124.11 328.45,124.19 328.70,124.20 328.95,124.21 329.20,124.25 329.45,124.19 329.70,124.23 329.95,124.23 330.20,124.09 330.45,124.08 330.70,123.94 330.95,123.87 331.20,123.80 331.45,123.84 331.70,123.68 331.95,123.62 332.20,123.44 332.45,123.21 332.70,122.86 332.95,122.31 333.20,121.44 333.45,120.35 333.70,118.96 333.95,117.13 334.20,115.23 334.45,113.23 334.70,111.56 334.95,110.32 335.20,109.87 335.45,110.23 335.70,111.47 335.95,113.28 336.20,115.30 336.45,117.08 336.70,118.77 336.95,120.25 337.20,121.39 337.45,122.19 337.70,122.70 337.95,123.13 338.20,123.53 338.45,123.65 338.70,123.63 338.95,123.71 339.20,123.80 339.45,123.88 339.70,123.82 339.95,123.75 340.20,123.79 340.45,123.96 340.70,124.07 340.95,124.05 341.20,124.15 341.45,124.15 341.70,124.17 341.95,124.33 342.20,124.31 342.45,124.32 342.70,124.39 342.95,124.25 343.20,124.36 343.45,124.31 343.70,124.17 343.95,124.10 344.20,123.97 344.45,123.97 344.70,124.08 344.95,124.09 345.20,124.17 345.45,124.25 345.70,124.27 345.95,124.29 346.20,124.33 346.45,124.26 346.70,124.27 346.95,124.35 347.20,124.31 347.45,124.34 347.70,124.45 347.95,124.42 348.20,124.38 348.45,124.38 348.70,124.38 348.95,124.44 349.20,124.46 349.45,124.48 349.70,124.53 349.95,124.61 350.20,124.55 350.45,124.45 350.70,124.42 350.95,124.30 351.20,124.21 351.45,124.23 351.70,124.24 351.95,124.27 352.20,124.25 352.45,124.20 352.70,124.26 352.95,124.28 353.20,124.19 353.45,124.16 353.70,124.18 353.95,124.10 354.20,124.07 354.45,124.01 354.70,123.83 354.95,123.66 355.20,123.50 355.45,123.09 355.70,122.90 355.95,122.56 356.20,122.34 356.45,122.30 356.70,122.25 356.95,122.14 357.20,122.38 357.45,122.59 357.70,122.93 357.95,123.13 358.20,123.31 358.45,123.58 358.70,123.84 358.95,123.94 359.20,124.12 359.45,124.10 359.70,124.18 359.95,124.17 360.20,124.17 360.45,124.10 360.70,124.21 360.95,124.09 361.20,124.05 361.45,123.96 361.70,123.94 361.95,123.78 362.20,123.80 362.45,123.65 362.70,123.64 362.95,123.60 363.20,123.45 363.45,123.19 363.70,122.98 363.95,122.58 364.20,121.91 364.45,120.90 364.70,119.85 364.95,118.55 365.20,117.13 365.45,115.65 365.70,114.48 365.95,113.85 366.10,113.81 366.20,113.80 366.45,114.39 366.70,115.45 366.95,116.94 367.20,118.27 367.45,119.58 367.70,120.78 367.95,121.80 368.20,122.50 368.45,123.04 368.70,123.31 368.95,123.50 369.20,123.67 369.45,123.65 369.70,123.66 369.95,123.58 370.20,123.49 370.45,123.24 370.70,123.01 370.95,122.47 371.20,121.86 371.45,121.15 371.70,120.37 371.95,119.52 372.20,118.75 372.45,118.14 372.70,117.86 372.80,117.95 372.95,118.02 373.20,118.44 373.45,119.25 373.70,120.17 373.95,120.93 374.20,121.79 374.45,122.51 374.70,123.08 374.95,123.45 375.20,123.74 375.45,123.90 375.70,124.03 375.95,123.97 376.20,124.04 376.45,124.06 376.70,124.11 376.95,124.00 377.20,123.92 377.45,123.98 377.70,124.14 377.95,124.04 378.20,123.95 378.45,124.08 378.70,124.22 378.95,124.23 379.20,124.37 379.45,124.34 379.70,124.43 379.95,124.53 380.20,124.53 380.45,124.54 380.70,124.67 380.95,124.54 381.20,124.56 381.45,124.51 381.70,124.53 381.95,124.45 382.20,124.47 382.45,124.42 382.70,124.43 382.95,124.35 383.20,124.27 383.45,124.23 383.70,124.16 383.95,124.08 384.20,124.00 384.45,124.05 384.70,124.10 384.95,124.18 385.20,124.25 385.45,124.24 385.70,124.31 385.95,124.37 386.20,124.38 386.45,124.42 386.70,124.47 386.95,124.38 387.20,124.46 387.45,124.48 387.70,124.41 387.95,124.42 388.20,124.41 388.45,124.26 388.70,124.30 388.95,124.35 389.20,124.34 389.45,124.38 389.70,124.44 389.95,124.41 390.20,124.48 390.45,124.52 390.70,124.37 390.95,124.31 391.20,124.32 391.45,124.16 391.70,124.17 391.95,124.09 392.20,123.94 392.45,123.96 392.70,123.89 392.95,123.74 393.20,123.70 393.45,123.56 393.70,123.57 393.90,123.63 393.95,123.58 394.20,123.61 394.45,123.69 394.70,123.76 394.95,123.80 395.20,123.86 395.45,123.97 395.70,124.11 395.95,124.17 396.20,124.21 396.45,124.23 396.70,124.28 396.95,124.33 397.20,124.29 397.45,124.34 397.70,124.21 397.95,124.30 398.20,124.41 398.45,124.46 398.70,124.37 398.95,124.31 399.20,124.17 399.45,124.20 399.70,124.24 399.95,124.19 400.20,124.21 400.45,124.35 400.70,124.46 400.95,124.58 401.20,124.66 401.45,124.61 401.70,124.62 401.95,124.61 402.20,124.59 402.45,124.46 402.70,124.47 402.95,124.45 403.20,124.47 403.45,124.36 403.70,124.28 403.95,124.16 404.20,124.27 404.45,124.31 404.70,124.35 404.95,124.28 405.20,124.41 405.45,124.53 405.70,124.63 405.95,124.53 406.20,124.42 406.45,124.37 406.70,124.36 406.95,124.29 407.20,124.26 407.45,124.33 407.70,124.29 407.95,124.34 408.20,124.27 408.45,124.23 408.70,124.31 408.95,124.29 409.20,124.29 409.45,124.36 409.70,124.26 409.95,124.32 410.20,124.41 410.45,124.44 410.70,124.51 410.95,124.43 411.20,124.42 411.45,124.44 411.70,124.49 411.95,124.42 412.20,124.27 412.45,124.08 412.70,123.99 412.95,124.04 413.20,124.05 413.45,124.11 413.70,124.08 413.95,124.22 414.20,124.24 414.45,124.24 414.70,124.24 414.95,124.26 415.20,124.21 415.45,124.23 415.70,124.07 415.95,124.19 416.20,124.31 416.45,124.32 416.70,124.40 416.95,124.26 417.20,124.31 417.45,124.40 417.70,124.29 417.95,124.27 418.20,124.09 418.45,124.05 418.70,124.07 418.95,123.85 419.20,123.60 419.45,123.52 419.70,123.39 419.95,123.27 420.20,123.07 420.45,123.03 420.60,123.06 420.70,123.22 420.95,123.22 421.20,123.14 421.45,123.29 421.70,123.45 421.95,123.51 422.20,123.72 422.45,123.69 422.70,123.85 422.95,123.99 423.20,124.12 423.45,124.19 423.70,124.24 423.95,124.22 424.20,124.37 424.45,124.42 424.70,124.52 424.95,124.52 425.20,124.46 425.45,124.40 425.70,124.52 425.95,124.51 426.20,124.49 426.45,124.41 426.70,124.42 426.95,124.55 427.20,124.70 427.45,124.63 427.70,124.56 427.95,124.48 428.20,124.59 428.45,124.55 428.70,124.49 428.95,124.45 429.20,124.51 429.45,124.60 429.70,124.57 429.95,124.41 430.20,124.39 430.45,124.34 430.70,124.34 430.95,124.32 431.20,124.34 431.45,124.29 431.70,124.45 431.95,124.55 432.20,124.64 432.45,124.64 432.70,124.53 432.95,124.53 433.20,124.67 433.45,124.64 433.70,124.66 433.95,124.57 434.20,124.48 434.45,124.53 434.70,124.52 434.95,124.40 435.20,124.42 435.45,124.42 435.70,124.40 435.95,124.50 436.20,124.52 436.45,124.46 436.70,124.46 436.95,124.37 437.20,124.33 437.45,124.44 437.70,124.41 437.95,124.38 438.20,124.38 438.45,124.48" fill="none" stroke="#ff1818" stroke-width="1.6" stroke-linejoin="round"/>
<path d="M14.20,284.14 14.45,284.17 14.70,284.11 14.95,284.05 15.20,284.14 15.45,284.10 15.70,284.08 15.95,284.14 16.20,284.12 16.45,284.22 16.70,284.29 16.95,284.26 17.20,284.25 17.45,284.30 17.70,284.29 17.95,284.30 18.20,284.28 18.45,284.31 18.70,284.23 18.95,284.32 19.20,284.31 19.45,284.24 19.70,284.17 19.95,284.19 20.20,284.16 20.45,284.25 20.70,284.27 20.95,284.29 21.20,284.38 21.45,284.43 21.70,284.42 21.95,284.42 22.20,284.45 22.45,284.45 22.70,284.36 22.95,284.26 23.20,284.23 23.45,284.26 23.70,284.26 23.95,284.22 24.20,284.14 24.45,284.19 24.70,284.23 24.95,284.25 25.20,284.20 25.45,284.22 25.70,284.26 25.95,284.31 26.20,284.37 26.45,284.44 26.70,284.53 26.95,284.54 27.20,284.48 27.45,284.48 27.70,284.52 27.95,284.52 28.20,284.48 28.45,284.44 28.70,284.38 28.95,284.47 29.20,284.43 29.45,284.34 29.70,284.23 29.95,284.27 30.20,284.31 30.45,284.29 30.70,284.29 30.95,284.26 31.20,284.25 31.45,284.28 31.70,284.27 31.95,284.25 32.20,284.25 32.45,284.22 32.70,284.18 32.95,284.25 33.20,284.26 33.45,284.28 33.70,284.29 33.95,284.36 34.20,284.41 34.45,284.45 34.70,284.36 34.95,284.40 35.20,284.28 35.45,284.18 35.70,284.16 35.95,284.11 36.20,284.09 36.45,284.09 36.70,284.13 36.95,284.17 37.20,284.27 37.45,284.34 37.70,284.31 37.95,284.35 38.20,284.42 38.45,284.39 38.70,284.43 38.95,284.38 39.20,284.34 39.45,284.42 39.70,284.43 39.95,284.41 40.20,284.43 40.45,284.38 40.70,284.34 40.95,284.39 41.20,284.34 41.45,284.34 41.70,284.29 41.95,284.25 42.20,284.29 42.45,284.26 42.70,284.21 42.95,284.22 43.20,284.16 43.45,284.24 43.70,284.25 43.95,284.27 44.20,284.31 44.45,284.33 44.70,284.34 44.95,284.34 45.20,284.26 45.45,284.29 45.70,284.33 45.95,284.32 46.20,284.29 46.45,284.27 46.70,284.31 46.95,284.35 47.20,284.30 47.45,284.22 47.70,284.27 47.95,284.25 48.20,284.22 48.45,284.28 48.70,284.24 48.95,284.28 49.20,284.33 49.45,284.29 49.70,284.28 49.95,284.34 50.20,284.27 50.45,284.29 50.70,284.27 50.95,284.27 51.20,284.24 51.45,284.25 51.70,284.19 51.95,284.27 52.20,284.31 52.45,284.37 52.70,284.30 52.95,284.33 53.20,284.38 53.45,284.45 53.70,284.40 53.95,284.37 54.20,284.27 54.45,284.32 54.70,284.31 54.95,284.33 55.20,284.32 55.45,284.29 55.70,284.30 55.95,284.39 56.20,284.41 56.45,284.49 56.70,284.43 56.95,284.33 57.20,284.35 57.45,284.42 57.70,284.35 57.95,284.31 58.20,284.26 58.45,284.27 58.70,284.31 58.95,284.40 59.20,284.31 59.45,284.27 59.70,284.36 59.95,284.42 60.20,284.50 60.45,284.51 60.70,284.52 60.95,284.63 61.20,284.66 61.45,284.64 61.70,284.63 61.95,284.59 62.20,284.61 62.45,284.52 62.70,284.44 62.95,284.45 63.20,284.35 63.45,284.32 63.70,284.28 63.95,284.32 64.20,284.29 64.45,284.37 64.70,284.44 64.95,284.56 65.20,284.60 65.45,284.69 65.70,284.66 65.95,284.66 66.20,284.64 66.45,284.57 66.70,284.49 66.95,284.46 67.20,284.41 67.45,284.40 67.70,284.53 67.95,284.51 68.20,284.54 68.45,284.53 68.70,284.57 68.95,284.56 69.20,284.62 69.45,284.54 69.70,284.48 69.95,284.51 70.20,284.60 70.45,284.50 70.70,284.55 70.95,284.57 71.20,284.64 71.45,284.73 71.70,284.66 71.95,284.64 72.20,284.74 72.45,284.64 72.70,284.55 72.95,284.48 73.20,284.44 73.45,284.50 73.70,284.48 73.95,284.47 74.20,284.47 74.45,284.44 74.70,284.43 74.95,284.38 75.20,284.33 75.45,284.40 75.70,284.42 75.95,284.43 76.20,284.50 76.45,284.53 76.70,284.56 76.95,284.60 77.20,284.56 77.45,284.52 77.70,284.56 77.95,284.52 78.20,284.53 78.45,284.50 78.70,284.54 78.95,284.55 79.20,284.52 79.45,284.49 79.70,284.49 79.95,284.50 80.20,284.57 80.45,284.60 80.70,284.56 80.95,284.62 81.20,284.70 81.45,284.74 81.70,284.74 81.95,284.73 82.20,284.72 82.45,284.73 82.70,284.72 82.95,284.70 83.20,284.68 83.45,284.70 83.70,284.73 83.95,284.65 84.20,284.65 84.45,284.62 84.70,284.68 84.95,284.78 85.20,284.76 85.45,284.79 85.70,284.89 85.95,284.88 86.20,284.88 86.45,284.78 86.70,284.77 86.95,284.81 87.20,284.81 87.45,284.82 87.70,284.88 87.95,284.92 88.20,284.98 88.45,284.89 88.70,284.88 88.95,284.76 89.20,284.67 89.45,284.69 89.70,284.60 89.95,284.54 90.20,284.54 90.45,284.58 90.70,284.60 90.95,284.59 91.20,284.60 91.45,284.61 91.70,284.71 91.95,284.80 92.20,284.79 92.45,284.90 92.70,284.98 92.95,284.97 93.20,284.96 93.45,284.95 93.70,284.93 93.95,284.91 94.20,284.80 94.45,284.82 94.70,284.84 94.95,284.84 95.20,284.78 95.45,284.79 95.70,284.81 95.95,284.83 96.20,284.75 96.45,284.66 96.70,284.73 96.95,284.79 97.20,284.77 97.45,284.71 97.70,284.73 97.95,284.75 98.20,284.78 98.45,284.71 98.70,284.67 98.95,284.75 99.20,284.76 99.45,284.81 99.70,284.78 99.95,284.82 100.20,284.92 100.45,284.94 100.70,284.88 100.95,284.89 101.20,284.87 101.45,284.98 101.70,284.90 101.95,284.81 102.20,284.82 102.45,284.88 102.70,284.89 102.95,284.86 103.20,284.83 103.45,284.84 103.70,284.86 103.95,284.79 104.20,284.74 104.45,284.72 104.70,284.69 104.95,284.69 105.20,284.79 105.45,284.80 105.70,284.87 105.95,284.84 106.20,284.92 106.45,284.97 106.70,284.91 106.95,284.81 107.20,284.77 107.45,284.74 107.70,284.74 107.95,284.65 108.20,284.61 108.45,284.62 108.70,284.70 108.95,284.72 109.20,284.79 109.45,284.80 109.70,284.86 109.95,284.88 110.20,284.95 110.45,284.96 110.70,285.01 110.95,284.94 111.20,284.98 111.45,285.01 111.70,285.01 111.95,284.99 112.20,285.01 112.45,285.00 112.70,284.97 112.95,284.90 113.20,284.88 113.45,284.92 113.70,284.95 113.95,284.94 114.20,284.91 114.45,284.90 114.70,284.90 114.95,284.83 115.20,284.84 115.45,284.82 115.70,284.83 115.95,284.83 116.20,284.92 116.45,284.93 116.70,284.97 116.95,284.97 117.20,284.86 117.45,284.75 117.70,284.83 117.95,284.75 118.20,284.76 118.45,284.78 118.70,284.77 118.95,284.76 119.20,284.80 119.45,284.74 119.70,284.77 119.95,284.75 120.20,284.75 120.45,284.79 120.70,284.84 120.95,284.87 121.20,284.83 121.45,284.80 121.70,284.86 121.95,284.79 122.20,284.78 122.45,284.86 122.70,284.79 122.95,284.91 123.20,284.92 123.45,284.94 123.70,285.02 123.95,284.94 124.20,284.91 124.45,284.99 124.70,284.97 124.95,284.95 125.20,284.95 125.45,284.98 125.70,285.03 125.95,285.01 126.20,284.93 126.45,284.89 126.70,284.90 126.95,284.89 127.20,284.85 127.45,284.84 127.70,284.79 127.95,284.86 128.20,284.88 128.45,284.85 128.70,284.87 128.95,284.87 129.20,284.81 129.45,284.91 129.70,284.84 129.95,284.79 130.20,284.87 130.45,284.82 130.70,284.81 130.95,284.88 131.20,284.81 131.45,284.83 131.70,284.80 131.95,284.71 132.20,284.72 132.45,284.75 132.70,284.73 132.95,284.77 133.20,284.77 133.45,284.78 133.70,284.82 133.95,284.83 134.20,284.73 134.45,284.72 134.70,284.64 134.95,284.69 135.20,284.70 135.45,284.68 135.70,284.61 135.95,284.67 136.20,284.70 136.45,284.71 136.70,284.71 136.95,284.66 137.20,284.64 137.45,284.59 137.70,284.52 137.95,284.50 138.20,284.54 138.45,284.43 138.70,284.42 138.95,284.42 139.20,284.49 139.45,284.56 139.70,284.53 139.95,284.48 140.20,284.45 140.45,284.44 140.70,284.37 140.95,284.29 141.20,284.21 141.45,284.08 141.70,283.97 141.95,283.99 142.20,283.86 142.45,283.85 142.70,283.80 142.95,283.73 143.20,283.61 143.45,283.49 143.70,283.26 143.95,283.10 144.20,282.80 144.45,282.32 144.70,281.54 144.95,280.48 145.20,278.61 145.45,275.56 145.70,270.78 145.95,263.55 146.20,253.86 146.45,241.77 146.70,228.01 146.95,214.51 147.20,203.76 147.45,198.59 147.50,198.51 147.70,200.79 147.95,209.56 148.20,222.32 148.45,236.18 148.70,249.11 148.95,259.95 149.20,268.11 149.45,273.77 149.70,277.48 149.95,279.74 150.20,281.05 150.45,281.85 150.70,282.27 150.95,282.51 151.20,282.83 151.45,283.06 151.70,283.18 151.95,283.43 152.20,283.60 152.45,283.68 152.70,283.87 152.95,283.95 153.20,284.01 153.45,284.11 153.70,284.14 153.95,284.12 154.20,284.24 154.45,284.27 154.70,284.33 154.95,284.27 155.20,284.28 155.45,284.25 155.70,284.21 155.95,284.10 156.20,283.97 156.45,283.86 156.70,283.80 156.95,283.73 157.20,283.73 157.45,283.75 157.70,283.75 157.95,283.77 158.20,283.72 158.45,283.68 158.70,283.62 158.95,283.47 159.20,283.28 159.45,283.19 159.70,283.01 159.95,282.77 160.20,282.42 160.45,281.90 160.70,281.17 160.95,279.92 161.20,277.72 161.45,274.29 161.70,269.18 161.95,261.73 162.20,251.91 162.45,240.05 162.70,227.36 162.95,215.74 163.20,207.72 163.40,205.44 163.45,205.57 163.70,210.15 163.95,219.94 164.20,232.29 164.45,244.77 164.70,255.79 164.95,264.66 165.20,271.17 165.45,275.60 165.70,278.34 165.95,280.00 166.20,281.03 166.45,281.62 166.70,282.07 166.95,282.29 167.20,282.38 167.45,282.57 167.70,282.62 167.95,282.71 168.20,282.79 168.45,282.68 168.70,282.65 168.95,282.70 169.20,282.61 169.45,282.61 169.70,282.48 169.95,282.41 170.20,282.26 170.45,282.07 170.70,281.73 170.95,281.46 171.20,280.98 171.45,280.33 171.70,279.26 171.95,277.79 172.20,275.36 172.45,271.20 172.70,264.32 172.95,253.95 173.20,239.37 173.45,220.48 173.70,198.11 173.95,174.66 174.20,154.15 174.45,141.38 174.60,139.12 174.70,140.27 174.95,151.14 175.20,170.66 175.45,193.91 175.70,216.70 175.95,236.29 176.20,251.76 176.45,262.82 176.70,270.30 176.95,274.87 177.20,277.62 177.45,279.31 177.70,280.39 177.95,281.11 178.20,281.59 178.45,281.95 178.70,282.39 178.95,282.65 179.20,282.86 179.45,283.14 179.70,283.38 179.95,283.56 180.20,283.72 180.45,283.76 180.70,283.89 180.95,283.91 181.20,284.00 181.45,284.02 181.70,284.05 181.95,284.01 182.20,284.11 182.45,284.18 182.70,284.30 182.95,284.28 183.20,284.32 183.45,284.34 183.70,284.45 183.95,284.38 184.20,284.39 184.45,284.42 184.70,284.49 184.95,284.45 185.20,284.49 185.45,284.52 185.70,284.63 185.95,284.70 186.20,284.73 186.45,284.72 186.70,284.84 186.95,284.92 187.20,284.87 187.45,284.84 187.70,284.74 187.95,284.68 188.20,284.77 188.45,284.67 188.70,284.65 188.95,284.63 189.20,284.60 189.45,284.69 189.70,284.67 189.95,284.55 190.20,284.57 190.45,284.58 190.70,284.66 190.95,284.65 191.20,284.60 191.45,284.71 191.70,284.74 191.95,284.80 192.20,284.77 192.45,284.80 192.70,284.89 192.95,284.97 193.20,284.92 193.45,284.92 193.70,284.87 193.95,284.82 194.20,284.83 194.45,284.77 194.70,284.67 194.95,284.73 195.20,284.73 195.45,284.84 195.70,284.84 195.95,284.79 196.20,284.81 196.45,284.93 196.70,284.88 196.95,284.94 197.20,284.93 197.45,285.04 197.70,285.02 197.95,285.08 198.20,285.03 198.45,284.96 198.70,284.99 198.95,284.97 199.20,284.96 199.45,284.95 199.70,284.94 199.95,284.94 200.20,285.03 200.45,284.93 200.70,284.89 200.95,284.85 201.20,284.83 201.45,284.84 201.70,284.88 201.95,284.83 202.20,284.92 202.45,284.95 202.70,284.92 202.95,284.96 203.20,285.02 203.45,284.96 203.70,284.97 203.95,284.89 204.20,284.84 204.45,284.83 204.70,284.91 204.95,284.88 205.20,284.95 205.45,285.03 205.70,285.11 205.95,285.21 206.20,285.26 206.45,285.19 206.70,285.22 206.95,285.22 207.20,285.22 207.45,285.20 207.70,285.18 207.95,285.16 208.20,285.25 208.45,285.24 208.70,285.16 208.95,285.16 209.20,285.12 209.45,285.02 209.70,285.07 209.95,284.97 210.20,284.92 210.45,284.97 210.70,284.84 210.95,284.92 211.20,284.95 211.45,284.91 211.70,284.91 211.95,284.95 212.20,284.96 212.45,285.00 212.70,284.91 212.95,284.91 213.20,284.91 213.45,284.87 213.70,284.79 213.95,284.79 214.20,284.85 214.45,284.97 214.70,285.07 214.95,285.13 215.20,285.17 215.45,285.18 215.70,285.11 215.95,285.08 216.20,285.02 216.45,284.96 216.70,284.89 216.95,284.95 217.20,284.97 217.45,284.99 217.70,285.05 217.95,285.09 218.20,285.06 218.45,285.04 218.70,285.04 218.95,285.00 219.20,284.95 219.45,284.90 219.70,284.86 219.95,284.85 220.20,284.82 220.45,284.74 220.70,284.84 220.95,284.89 221.20,284.95 221.45,284.99 221.70,285.10 221.95,285.10 222.20,285.09 222.45,284.99 222.70,284.98 222.95,284.89 223.20,284.79 223.45,284.73 223.70,284.74 223.95,284.76 224.20,284.79 224.45,284.84 224.70,284.85 224.95,284.88 225.20,284.81 225.45,284.86 225.70,284.90 225.95,284.96 226.20,284.97 226.45,285.03 226.70,285.02 226.95,285.04 227.20,285.08 227.45,285.10 227.70,285.08 227.95,285.07 228.20,285.03 228.45,285.03 228.70,285.04 228.95,284.93 229.20,284.91 229.45,284.96 229.70,284.97 229.95,284.96 230.20,285.01 230.45,285.11 230.70,285.22 230.95,285.21 231.20,285.14 231.45,285.09 231.70,285.04 231.95,284.97 232.20,284.94 232.45,284.96 232.70,284.95 232.95,284.94 233.20,284.91 233.45,284.95 233.70,285.03 233.95,284.99 234.20,284.98 234.45,284.92 234.70,284.90 234.95,284.92 235.20,284.90 235.45,284.90 235.70,284.94 235.95,284.92 236.20,284.97 236.45,284.92 236.70,284.91 236.95,284.91 237.20,284.84 237.45,284.74 237.70,284.69 237.95,284.70 238.20,284.67 238.45,284.65 238.70,284.58 238.95,284.53 239.20,284.55 239.45,284.50 239.70,284.36 239.95,284.23 240.20,284.06 240.45,283.71 240.70,283.15 240.95,282.24 241.20,280.71 241.45,278.47 241.70,275.48 241.95,271.46 242.20,266.74 242.45,261.79 242.70,257.35 242.95,254.58 243.10,254.09 243.20,254.31 243.45,256.49 243.70,260.60 243.95,265.49 244.20,270.30 244.45,274.54 244.70,277.89 244.95,280.24 245.20,281.89 245.45,282.96 245.70,283.53 245.95,283.92 246.20,284.21 246.45,284.27 246.70,284.30 246.95,284.36 247.20,284.35 247.45,284.48 247.70,284.50 247.95,284.44 248.20,284.60 248.45,284.61 248.70,284.70 248.95,284.71 249.20,284.79 249.45,284.90 249.70,284.97 249.95,284.87 250.20,284.88 250.45,284.87 250.70,284.88 250.95,284.78 251.20,284.81 251.45,284.85 251.70,284.84 251.95,284.97 252.20,284.95 252.45,284.98 252.70,284.98 252.95,284.92 253.20,284.94 253.45,284.98 253.70,284.87 253.95,284.82 254.20,284.79 254.45,284.83 254.70,284.90 254.95,284.78 255.20,284.77 255.45,284.88 255.70,285.00 255.95,285.12 256.20,285.11 256.45,285.04 256.70,285.16 256.95,285.20 257.20,285.17 257.45,285.08 257.70,284.95 257.95,284.96 258.20,285.02 258.45,285.00 258.70,285.01 258.95,284.98 259.20,285.01 259.45,285.07 259.70,285.10 259.95,285.11 260.20,285.03 260.45,285.03 260.70,285.10 260.95,285.14 261.20,285.11 261.45,285.17 261.70,285.17 261.95,285.17 262.20,285.12 262.45,285.02 262.70,284.91 262.95,285.02 263.20,284.95 263.45,284.95 263.70,284.95 263.95,284.91 264.20,285.00 264.45,285.11 264.70,285.11 264.95,285.15 265.20,285.10 265.45,285.19 265.70,285.20 265.95,285.16 266.20,285.11 266.45,284.99 266.70,284.98 266.95,284.95 267.20,284.92 267.45,284.96 267.70,284.92 267.95,284.91 268.20,284.98 268.45,285.03 268.70,285.11 268.95,285.16 269.20,285.23 269.45,285.22 269.70,285.31 269.95,285.26 270.20,285.14 270.45,285.08 270.70,285.07 270.95,285.00 271.20,285.05 271.45,284.95 271.70,285.05 271.95,285.09 272.20,285.09 272.45,285.06 272.70,285.14 272.95,285.18 273.20,285.22 273.45,285.14 273.70,285.17 273.95,285.11 274.20,285.09 274.45,285.09 274.70,285.06 274.95,284.99 275.20,285.05 275.45,285.02 275.70,285.14 275.95,285.14 276.20,285.05 276.45,285.02 276.70,285.13 276.95,285.07 277.20,285.14 277.45,285.10 277.70,285.10 277.95,285.11 278.20,285.10 278.45,285.03 278.70,285.02 278.95,284.99 279.20,285.01 279.45,285.04 279.70,285.02 279.95,284.98 280.20,284.98 280.45,285.01 280.70,284.94 280.95,284.82 281.20,284.79 281.45,284.80 281.70,284.77 281.95,284.80 282.20,284.84 282.45,284.89 282.70,284.98 282.95,285.05 283.20,285.12 283.45,285.24 283.70,285.22 283.95,285.19 284.20,285.13 284.45,285.14 284.70,285.08 284.95,285.02 285.20,285.02 285.45,284.99 285.70,284.92 285.95,285.01 286.20,284.97 286.45,284.92 286.70,284.86 286.95,284.78 287.20,284.73 287.45,284.81 287.70,284.72 287.95,284.66 288.20,284.70 288.45,284.76 288.70,284.76 288.95,284.83 289.20,284.80 289.45,284.82 289.70,284.78 289.95,284.85 290.20,284.86 290.45,284.80 290.70,284.75 290.95,284.74 291.20,284.80 291.45,284.77 291.70,284.61 291.95,284.55 292.20,284.56 292.45,284.58 292.70,284.55 292.95,284.41 293.20,284.40 293.45,284.41 293.70,284.39 293.95,284.28 294.20,284.10 294.45,283.86 294.70,283.72 294.95,283.42 295.20,283.09 295.45,282.48 295.70,281.66 295.95,280.31 296.20,278.40 296.45,275.68 296.70,272.18 296.95,267.59 297.20,262.22 297.45,256.46 297.70,250.79 297.95,245.91 298.20,242.65 298.40,241.72 298.45,241.83 298.70,243.64 298.95,247.58 299.20,252.93 299.45,258.76 299.70,264.51 299.95,269.64 300.20,273.81 300.45,277.13 300.70,279.46 300.95,281.04 301.20,282.16 301.45,282.83 301.70,283.21 301.95,283.53 302.20,283.68 302.45,283.92 302.70,284.16 302.95,284.22 303.20,284.39 303.45,284.49 303.70,284.46 303.95,284.51 304.20,284.44 304.45,284.43 304.70,284.50 304.95,284.52 305.20,284.61 305.45,284.62 305.70,284.67 305.95,284.74 306.20,284.72 306.45,284.72 306.70,284.65 306.95,284.65 307.20,284.70 307.45,284.67 307.70,284.66 307.95,284.71 308.20,284.76 308.45,284.77 308.70,284.78 308.95,284.77 309.20,284.85 309.45,284.91 309.70,284.88 309.95,284.92 310.20,284.94 310.45,284.92 310.70,284.98 310.95,284.98 311.20,284.96 311.45,284.95 311.70,284.96 311.95,285.02 312.20,285.02 312.45,285.02 312.70,284.97 312.95,285.04 313.20,285.13 313.45,285.05 313.70,285.05 313.95,285.12 314.20,285.09 314.45,285.19 314.70,285.14 314.95,285.07 315.20,285.14 315.45,285.07 315.70,285.04 315.95,285.07 316.20,284.95 316.45,284.96 316.70,285.05 316.95,285.02 317.20,285.04 317.45,285.06 317.70,285.04 317.95,285.10 318.20,285.10 318.45,285.10 318.70,285.06 318.95,285.00 319.20,284.98 319.45,285.00 319.70,284.97 319.95,285.01 320.20,285.02 320.45,285.07 320.70,285.19 320.95,285.20 321.20,285.22 321.45,285.22 321.70,285.09 321.95,285.06 322.20,285.09 322.45,285.00 322.70,284.95 322.95,284.92 323.20,284.91 323.45,285.00 323.70,284.98 323.95,284.93 324.20,284.89 324.45,284.89 324.70,284.85 324.95,284.91 325.20,284.84 325.45,284.81 325.70,284.77 325.95,284.81 326.20,284.80 326.45,284.76 326.70,284.66 326.95,284.69 327.20,284.65 327.45,284.68 327.70,284.64 327.95,284.55 328.20,284.60 328.45,284.70 328.70,284.73 328.95,284.75 329.20,284.71 329.45,284.67 329.70,284.66 329.95,284.60 330.20,284.56 330.45,284.41 330.70,284.42 330.95,284.37 331.20,284.36 331.45,284.27 331.70,284.27 331.95,284.03 332.20,283.93 332.45,283.63 332.70,283.24 332.95,282.68 333.20,281.99 333.45,280.78 333.70,279.17 333.95,276.88 334.20,273.76 334.45,270.03 334.70,265.67 334.95,260.75 335.20,255.92 335.45,251.76 335.70,248.77 335.95,247.81 336.20,248.79 336.45,251.69 336.70,255.88 336.95,260.68 337.20,265.41 337.45,269.92 337.70,273.72 337.95,276.82 338.20,279.16 338.45,280.87 338.70,282.09 338.95,282.87 339.20,283.36 339.45,283.68 339.70,283.91 339.95,283.99 340.20,284.08 340.45,284.15 340.70,284.23 340.95,284.32 341.20,284.37 341.45,284.50 341.70,284.66 341.95,284.77 342.20,284.77 342.45,284.78 342.70,284.78 342.95,284.84 343.20,284.85 343.45,284.78 343.70,284.72 343.95,284.82 344.20,284.93 344.45,284.94 344.70,284.95 344.95,284.85 345.20,284.91 345.45,284.99 345.70,284.95 345.95,284.87 346.20,284.83 346.45,284.82 346.70,284.93 346.95,284.88 347.20,284.79 347.45,284.72 347.70,284.81 347.95,284.85 348.20,284.83 348.45,284.85 348.70,284.92 348.95,284.95 349.20,285.04 349.45,284.93 349.70,284.92 349.95,284.95 350.20,284.83 350.45,284.75 350.70,284.78 350.95,284.73 351.20,284.86 351.45,284.83 351.70,284.84 351.95,284.87 352.20,284.97 352.45,284.95 352.70,284.98 352.95,284.88 353.20,284.88 353.45,284.82 353.70,284.85 353.95,284.75 354.20,284.66 354.45,284.55 354.70,284.40 354.95,284.24 355.20,284.02 355.45,283.67 355.70,283.29 355.95,282.79 356.20,282.15 356.45,281.51 356.70,280.87 356.95,280.26 357.20,279.84 357.45,279.61 357.50,279.66 357.70,279.83 357.95,280.24 358.20,280.79 358.45,281.44 358.70,282.05 358.95,282.66 359.20,283.09 359.45,283.55 359.70,283.87 359.95,284.03 360.20,284.26 360.45,284.40 360.70,284.51 360.95,284.60 361.20,284.53 361.45,284.60 361.70,284.59 361.95,284.50 362.20,284.53 362.45,284.42 362.70,284.38 362.95,284.37 363.20,284.18 363.45,284.18 363.70,284.03 363.95,283.67 364.20,283.38 364.45,282.80 364.70,282.06 364.95,281.04 365.20,279.50 365.45,277.40 365.70,274.93 365.95,271.88 366.20,268.59 366.45,265.14 366.70,262.00 366.95,259.63 367.20,258.67 367.25,258.56 367.45,259.12 367.70,260.86 367.95,263.73 368.20,267.01 368.45,270.38 368.70,273.56 368.95,276.35 369.20,278.55 369.45,280.31 369.70,281.48 369.95,282.30 370.20,282.89 370.45,283.13 370.70,283.26 370.95,283.05 371.20,282.69 371.45,282.18 371.70,281.55 371.95,280.50 372.20,279.24 372.45,277.67 372.70,276.04 372.95,274.38 373.20,272.80 373.45,271.47 373.70,270.83 373.80,270.78 373.95,270.89 374.20,271.70 374.45,273.01 374.70,274.63 374.95,276.49 375.20,278.26 375.45,279.82 375.70,281.15 375.95,282.14 376.20,282.94 376.45,283.47 376.70,283.82 376.95,284.07 377.20,284.21 377.45,284.31 377.70,284.40 377.95,284.43 378.20,284.50 378.45,284.57 378.70,284.56 378.95,284.63 379.20,284.70 379.45,284.75 379.70,284.81 379.95,284.81 380.20,284.86 380.45,284.94 380.70,284.88 380.95,284.92 381.20,284.92 381.45,284.90 381.70,284.94 381.95,284.87 382.20,284.86 382.45,284.90 382.70,284.91 382.95,284.89 383.20,284.98 383.45,285.02 383.70,285.05 383.95,285.04 384.20,285.01 384.45,284.94 384.70,284.99 384.95,284.97 385.20,285.01 385.45,285.09 385.70,285.05 385.95,285.11 386.20,285.20 386.45,285.24 386.70,285.29 386.95,285.21 387.20,285.20 387.45,285.29 387.70,285.19 387.95,285.16 388.20,285.19 388.45,285.10 388.70,285.20 388.95,285.21 389.20,285.15 389.45,285.15 389.70,285.10 389.95,285.08 390.20,285.09 390.45,285.01 390.70,284.94 390.95,285.00 391.20,285.01 391.45,284.96 391.70,284.95 391.95,284.90 392.20,284.86 392.45,284.86 392.70,284.67 392.95,284.52 393.20,284.48 393.45,284.19 393.70,283.95 393.95,283.78 394.20,283.43 394.45,283.28 394.70,283.12 394.95,282.91 395.20,282.85 395.45,282.95 395.70,283.03 395.95,283.25 396.20,283.43 396.45,283.68 396.70,284.00 396.95,284.32 397.20,284.55 397.45,284.75 397.70,284.83 397.95,284.90 398.20,284.96 398.45,284.92 398.70,284.96 398.95,285.01 399.20,285.04 399.45,285.12 399.70,285.12 399.95,285.16 400.20,285.15 400.45,285.14 400.70,285.06 400.95,284.98 401.20,285.03 401.45,285.05 401.70,285.12 401.95,285.16 402.20,285.13 402.45,285.11 402.70,285.19 402.95,285.12 403.20,285.14 403.45,285.11 403.70,285.15 403.95,285.09 404.20,285.09 404.45,285.05 404.70,285.00 404.95,285.07 405.20,285.03 405.45,284.97 405.70,284.99 405.95,284.99 406.20,284.95 406.45,285.02 406.70,284.96 406.95,284.96 407.20,284.98 407.45,285.00 407.70,285.09 407.95,285.11 408.20,285.14 408.45,285.15 408.70,285.12 408.95,285.10 409.20,285.15 409.45,285.11 409.70,285.10 409.95,285.07 410.20,285.12 410.45,285.15 410.70,285.18 410.95,285.11 411.20,285.05 411.45,285.07 411.70,285.06 411.95,285.02 412.20,285.03 412.45,285.04 412.70,285.09 412.95,285.11 413.20,285.17 413.45,285.12 413.70,285.17 413.95,285.13 414.20,285.17 414.45,285.10 414.70,285.09 414.95,285.02 415.20,285.12 415.45,285.11 415.70,285.20 415.95,285.22 416.20,285.19 416.45,285.22 416.70,285.16 416.95,285.13 417.20,285.06 417.45,285.02 417.70,284.97 417.95,285.05 418.20,285.03 418.45,285.05 418.70,284.90 418.95,284.69 419.20,284.50 419.45,284.14 419.70,283.70 419.95,283.36 420.20,282.90 420.45,282.53 420.70,282.17 420.95,281.78 421.20,281.69 421.40,281.63 421.45,281.59 421.70,281.78 421.95,281.95 422.20,282.37 422.45,282.82 422.70,283.19 422.95,283.67 423.20,284.03 423.45,284.20 423.70,284.44 423.95,284.60 424.20,284.78 424.45,284.83 424.70,284.89 424.95,284.86 425.20,285.02 425.45,285.08 425.70,285.10 425.95,285.07 426.20,285.07 426.45,285.10 426.70,285.20 426.95,285.21 427.20,285.19 427.45,285.15 427.70,285.09 427.95,285.20 428.20,285.16 428.45,285.11 428.70,285.06 428.95,285.12 429.20,285.14 429.45,285.16 429.70,285.15 429.95,285.20 430.20,285.18 430.45,285.12 430.70,285.16 430.95,285.22 431.20,285.25 431.45,285.20 431.70,285.23 431.95,285.25 432.20,285.27 432.45,285.16 432.70,285.11 432.95,285.11 433.20,285.10 433.45,285.10 433.70,285.13 433.95,285.17 434.20,285.25 434.45,285.28 434.70,285.29 434.95,285.30 435.20,285.25 435.45,285.22 435.70,285.28 435.95,285.21 436.20,285.24 436.45,285.20 436.70,285.24 436.95,285.18 437.20,285.18 437.45,285.13 437.70,285.20 437.95,285.16 438.20,285.19 438.45,285.11" fill="none" stroke="#1e1e1e" stroke-width="1.45" stroke-linejoin="round"/>
<g font-size="8.5" text-anchor="middle"><text x="14.85" y="306" textLength="9.4" lengthAdjust="spacingAndGlyphs">10</text><text x="75.00" y="306" textLength="9.4" lengthAdjust="spacingAndGlyphs">20</text><text x="135.75" y="306" textLength="9.4" lengthAdjust="spacingAndGlyphs">30</text><text x="196.20" y="306" textLength="9.4" lengthAdjust="spacingAndGlyphs">40</text><text x="257.30" y="306" textLength="9.4" lengthAdjust="spacingAndGlyphs">50</text><text x="317.60" y="306" textLength="9.4" lengthAdjust="spacingAndGlyphs">60</text><text x="378.70" y="306" textLength="9.4" lengthAdjust="spacingAndGlyphs">70</text><text x="439.40" y="306" textLength="9.4" lengthAdjust="spacingAndGlyphs">80</text></g>
<text x="224.3" y="317" font-size="8.5" text-anchor="middle" textLength="53.7" lengthAdjust="spacingAndGlyphs">2 θ (Degrees)</text>
<text transform="translate(9.0,148.4) rotate(-90)" font-size="9.8" text-anchor="middle" textLength="67.3" lengthAdjust="spacingAndGlyphs">Intensity (Counts)</text>
<g font-size="10">
<text x="24.1" y="59.8" textLength="36.8" lengthAdjust="spacingAndGlyphs">x <tspan style="fill:none;stroke:none">=</tspan> 0.10</text>
<text x="24.1" y="116.3" textLength="36.4" lengthAdjust="spacingAndGlyphs">x <tspan style="fill:none;stroke:none">=</tspan> 0.04</text>
<text x="28.2" y="277.2" textLength="36" lengthAdjust="spacingAndGlyphs">x <tspan style="fill:none;stroke:none">=</tspan> 0.00</text>
</g>
<g font-size="10.6"><text transform="translate(152.30,192.80) rotate(-90)">(100)</text><text transform="translate(166.70,197.30) rotate(-90)">(002)</text><text transform="translate(187.30,159.10) rotate(-90)">(101)</text><text transform="translate(246.80,244.60) rotate(-90)">(102)</text><text transform="translate(302.70,233.60) rotate(-90)">(110)</text><text transform="translate(337.30,241.10) rotate(-90)">(103)</text><text transform="translate(362.40,275.40) rotate(-90)">(200)</text><text transform="translate(371.00,253.10) rotate(-90)">(112)</text><text transform="translate(382.40,264.90) rotate(-90)">(201)</text><text transform="translate(427.20,272.30) rotate(-90)">(202)</text></g>
<g fill="#858585">
<rect x="31.9" y="55.1" width="6" height="2.9" rx="0.6"/>
<rect x="31.9" y="111.6" width="6" height="2.9" rx="0.6"/>
<rect x="36" y="272.1" width="6" height="3.1" rx="0.6"/>
</g>
</svg>
</body></html>
